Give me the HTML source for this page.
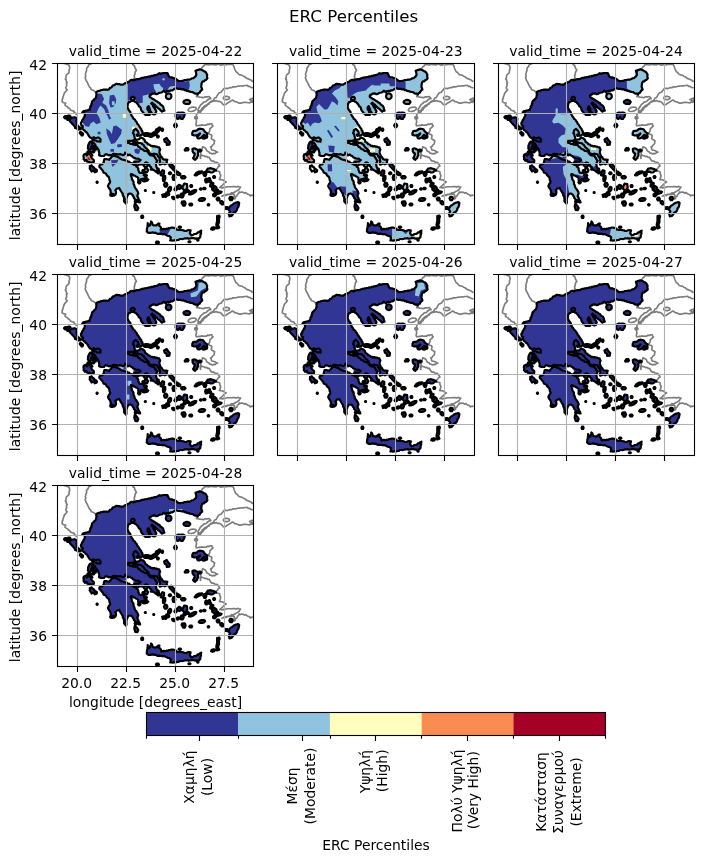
<!DOCTYPE html>
<html lang="el"><head><meta charset="utf-8"><title>ERC Percentiles</title>
<style>html,body{margin:0;padding:0;background:#fff}svg{display:block}text{font-family:"DejaVu Sans","Liberation Sans",sans-serif;fill:#000;font-size:13.89px}</style></head><body>
<svg width="703" height="862" viewBox="0 0 703 862">
<rect width="703" height="862" fill="#fff"/>
<defs>
<path id="land" d="M23.9 62.0L25.3 62.5L25.3 63.4L24.7 64.0L24.8 64.9L25.5 65.5L26.1 66.5L27.2 67.0L27.8 68.0L28.6 68.5L29.4 69.0L30.2 70.3L30.9 71.7L31.8 73.0L32.6 74.0L33.7 74.5L34.6 74.9L34.9 75.8L35.2 74.5L36.3 73.8L37.4 74.4L38.6 74.5L39.9 74.2L41.2 74.0L41.7 74.7L42.5 75.0L43.1 76.0L42.9 77.2L42.9 78.3L41.8 77.9L40.6 78.0L39.5 77.9L38.6 77.0L37.4 77.0L36.4 76.3L35.1 76.2L35.1 77.6L34.3 78.7L35.3 79.5L36.5 79.6L37.2 80.5L37.9 81.6L38.2 82.9L39.2 83.8L40.0 84.7L40.7 85.6L41.2 86.7L41.3 88.0L41.8 89.2L41.7 90.5L41.6 91.8L42.6 92.1L43.5 92.5L45.0 92.5L46.5 92.5L47.1 91.5L48.0 90.8L49.2 90.9L50.3 91.2L51.4 91.8L52.5 91.7L53.6 91.6L54.7 91.8L55.2 90.7L56.3 90.2L57.5 90.7L58.9 90.6L60.2 90.8L61.3 91.0L62.6 90.6L63.7 91.0L65.1 91.6L66.6 91.2L67.4 90.4L67.6 89.2L68.7 89.8L69.3 90.8L70.0 91.8L71.0 91.6L71.9 91.0L73.1 91.9L74.5 92.5L75.4 93.7L76.8 94.3L77.7 94.6L78.4 95.0L79.6 95.3L80.8 95.0L81.9 95.9L83.1 96.5L82.0 97.5L80.8 98.2L79.3 98.0L77.8 98.0L76.7 98.3L76.1 99.2L77.1 99.9L78.4 100.0L78.2 101.2L76.8 101.5L75.9 100.9L74.9 100.3L73.9 99.8L72.5 99.2L71.5 98.0L70.1 97.8L68.9 96.9L67.4 96.8L66.1 96.3L64.5 96.0L63.1 95.3L62.0 94.5L60.8 93.8L59.6 93.1L58.2 92.8L57.1 92.4L56.0 92.5L54.9 92.2L54.4 93.0L53.9 93.8L53.2 94.6L52.3 95.3L51.8 96.3L50.6 96.0L49.4 95.7L48.1 95.7L46.9 95.5L46.4 97.0L46.3 98.6L45.5 100.0L44.4 101.0L42.9 101.2L42.2 101.7L41.8 102.5L42.0 103.6L42.9 104.3L43.6 105.2L44.4 106.0L45.1 107.0L45.8 107.9L45.9 109.0L47.1 109.5L48.4 110.0L49.1 111.5L50.2 112.7L51.4 113.7L51.8 115.2L52.0 116.7L52.7 118.0L52.4 119.2L51.5 120.2L51.0 121.3L50.5 122.3L50.8 123.5L51.4 124.5L52.1 125.3L52.7 126.2L53.1 127.3L53.1 128.4L53.3 129.5L53.9 130.2L54.9 130.3L56.2 130.8L56.8 132.0L57.8 131.2L58.4 130.0L58.5 128.9L58.4 127.8L57.8 126.8L58.7 126.0L59.2 125.0L60.5 125.0L61.7 124.5L62.4 125.7L63.0 126.9L63.7 128.0L64.4 129.2L65.3 130.3L65.3 131.9L66.3 133.0L66.3 134.3L66.7 135.5L66.5 136.8L66.6 138.0L67.6 139.1L68.6 140.2L69.0 138.7L68.9 137.5L68.9 136.2L69.0 135.0L69.5 133.5L70.0 132.0L70.6 131.2L71.0 130.3L72.1 130.2L73.3 130.0L74.1 130.8L75.1 131.4L75.5 132.5L76.2 133.4L76.4 134.5L77.4 135.5L77.8 136.7L79.4 136.7L79.8 137.5L80.4 138.3L81.4 138.9L82.7 139.0L82.2 137.5L81.2 136.3L80.9 135.0L80.5 133.8L79.8 132.8L80.1 131.3L80.8 130.0L80.4 128.5L79.6 127.1L78.8 125.8L77.8 124.6L77.1 123.3L76.8 121.7L76.0 120.5L76.1 119.0L75.8 117.8L75.0 116.8L74.4 115.8L74.3 114.5L73.9 113.1L73.3 111.7L73.5 110.5L74.9 110.8L75.6 111.3L76.1 112.0L77.4 112.1L78.4 113.0L79.7 113.5L80.8 114.5L80.7 115.7L80.8 117.0L81.7 117.2L82.3 118.0L82.8 116.7L83.7 115.5L85.2 115.4L86.6 115.0L87.9 114.6L89.2 114.2L88.5 113.5L88.0 112.5L87.1 112.1L86.2 111.7L87.0 110.8L86.2 109.9L86.2 108.8L85.5 109.2L84.7 109.5L83.4 109.4L82.1 109.2L81.5 108.5L81.3 107.5L80.7 106.3L80.8 105.0L80.0 103.7L78.8 103.0L79.2 102.0L80.4 101.7L81.5 101.1L82.7 101.0L84.2 101.0L85.7 100.8L86.8 100.4L87.6 99.5L88.5 98.9L89.6 99.2L90.4 99.9L90.6 101.0L91.5 101.2L92.1 102.0L92.5 103.1L93.6 103.8L93.9 105.0L94.8 105.8L95.9 106.5L97.0 107.0L98.0 107.9L99.0 108.8L99.2 107.8L99.8 107.0L99.9 105.6L99.4 104.3L98.8 103.0L98.7 101.8L98.4 100.7L98.6 99.5L99.3 98.4L99.8 97.3L99.0 96.4L98.4 95.5L97.9 94.5L97.2 93.6L96.8 92.5L95.5 92.1L94.1 92.0L92.8 91.7L91.9 90.8L91.0 90.0L90.9 89.0L90.2 88.3L89.0 87.6L87.6 87.5L86.5 87.1L85.7 86.1L84.5 85.8L83.1 85.1L82.2 83.8L80.8 83.2L80.3 82.1L79.4 81.2L78.1 81.3L76.8 81.2L75.6 81.1L74.5 80.5L72.9 80.5L71.7 79.3L70.2 79.3L69.4 78.3L70.2 77.4L71.4 77.3L72.9 77.4L74.4 77.3L75.9 76.8L76.9 76.3L77.8 75.8L77.2 74.7L77.1 73.5L76.6 72.1L76.3 70.7L75.4 69.5L76.1 68.2L76.1 66.7L77.2 66.1L78.1 65.3L79.1 66.4L80.2 67.4L80.8 68.8L81.2 70.3L80.3 70.9L79.2 71.3L79.8 72.4L80.8 72.0L82.0 72.3L83.0 72.0L84.2 71.1L85.5 70.3L84.9 69.1L84.9 67.8L84.0 66.9L83.8 65.6L83.0 64.6L82.1 63.5L81.4 62.2L80.6 61.0L79.6 59.9L79.2 58.5L78.1 57.5L77.5 56.1L76.0 55.3L75.5 53.9L74.5 52.8L73.8 51.4L73.1 50.1L72.8 48.5L71.9 47.3L70.9 46.1L70.5 44.9L70.0 43.8L70.0 42.5L70.3 41.4L70.2 40.2L71.0 39.6L71.2 38.7L72.4 38.5L73.2 37.7L74.8 37.3L76.4 37.3L77.2 38.1L78.3 38.3L79.1 39.4L80.1 40.4L80.9 41.5L81.4 42.8L82.7 43.5L83.3 44.7L83.5 46.0L84.0 47.2L85.2 48.3L85.7 49.8L87.0 50.1L87.8 51.3L89.1 51.5L90.2 51.1L91.4 51.5L92.4 51.2L92.0 49.8L91.4 48.5L90.9 47.0L89.9 45.8L89.9 44.6L90.1 43.5L91.1 42.7L91.6 43.7L91.9 44.8L92.5 45.8L92.5 47.1L93.3 48.1L93.9 49.0L94.4 50.0L95.4 50.6L96.8 50.9L98.1 50.5L98.2 49.1L98.8 47.9L98.4 46.8L97.6 45.9L97.4 44.7L96.4 44.0L95.8 43.1L95.4 41.9L94.8 40.8L93.7 40.1L94.7 39.1L95.2 40.0L96.1 40.5L96.7 41.5L97.8 41.9L98.5 42.7L99.4 43.6L100.3 44.6L101.4 45.2L102.5 46.1L103.4 47.2L104.5 48.1L105.6 47.3L106.9 47.1L106.3 46.0L106.1 44.9L105.9 43.7L105.2 42.5L104.0 41.7L102.9 40.8L102.1 39.6L100.7 39.0L99.7 38.0L98.4 37.4L97.3 36.6L96.2 35.8L94.9 35.4L93.7 34.3L92.3 33.7L92.0 32.5L92.6 31.4L93.7 31.1L94.6 30.2L95.9 30.2L97.3 29.9L98.7 30.7L100.1 30.4L101.1 29.6L102.4 29.3L103.7 29.0L105.1 28.4L106.1 27.2L107.2 28.0L108.2 29.0L108.2 28.2L109.5 27.6L111.0 27.4L112.4 27.5L113.5 26.8L114.9 26.8L116.0 26.1L117.3 25.0L118.8 24.6L120.2 25.4L121.7 25.4L123.1 25.4L124.5 26.0L126.0 25.7L127.0 26.6L128.4 26.7L129.5 27.5L131.0 27.6L132.4 28.1L133.8 28.5L135.3 28.7L136.6 29.7L138.0 30.1L139.3 30.2L140.2 31.0L140.7 29.7L142.2 29.2L142.7 27.9L143.6 26.9L144.7 26.1L144.3 24.6L143.7 23.2L143.9 21.8L144.0 20.4L144.4 19.0L145.2 17.9L146.6 17.8L147.3 16.8L148.4 16.4L149.3 15.7L149.9 14.7L149.5 13.5L149.5 12.3L149.7 11.1L149.0 10.0L148.4 8.8L147.3 8.0L146.1 7.4L144.9 6.7L143.6 6.2L142.3 5.7L140.9 6.4L139.4 6.7L138.0 7.2L138.4 8.6L138.7 10.0L138.8 11.4L138.1 12.8L137.0 13.7L135.9 14.7L134.4 14.8L133.1 15.7L131.6 16.1L130.2 16.2L128.8 16.5L127.3 16.5L126.0 17.1L124.7 17.3L123.5 17.5L122.2 17.6L121.0 17.5L119.8 16.7L118.8 15.7L117.5 14.9L116.0 14.7L114.7 13.9L113.1 13.9L111.7 13.3L111.0 12.2L110.6 10.9L110.0 9.7L108.7 9.6L107.4 9.5L106.0 9.5L104.6 9.8L103.2 10.1L101.8 9.7L100.4 10.6L99.1 11.3L97.5 11.6L96.4 11.8L95.4 12.4L94.2 12.3L92.9 13.0L91.4 12.9L90.0 13.5L88.5 13.7L87.1 13.8L85.7 14.4L84.2 14.4L82.9 15.0L81.5 15.7L80.0 15.7L78.5 15.8L77.2 16.4L75.8 16.9L74.3 16.3L72.9 16.8L71.8 18.0L70.2 18.5L69.1 19.7L67.7 19.7L66.6 20.4L65.5 21.1L64.1 21.1L62.8 21.1L61.5 20.5L60.3 20.6L59.1 20.3L57.9 20.8L57.0 21.6L55.6 21.8L54.7 22.8L53.9 24.0L52.4 24.4L51.6 25.7L50.3 26.3L48.9 26.2L47.6 26.2L46.3 26.1L45.1 26.4L43.9 26.5L42.7 27.1L41.4 27.3L40.2 27.8L39.0 28.5L38.7 29.8L39.0 31.1L38.7 32.4L38.5 33.6L38.0 34.8L36.8 35.6L36.2 36.7L35.1 37.2L34.5 38.3L34.4 39.6L33.8 40.6L33.9 41.9L32.8 42.8L32.9 44.0L32.2 45.1L32.1 46.4L30.7 46.7L29.3 47.0L28.1 47.2L26.9 47.5L25.7 47.9L24.8 48.9L25.9 49.3L27.0 49.8L27.3 51.1L27.3 52.4L26.8 53.5L26.1 54.4L25.6 55.8L24.6 57.0L24.6 58.2L23.7 58.9L23.4 60.0L23.7 61.0ZM77.2 79.3L78.6 79.4L79.8 78.7L81.2 79.5L82.7 79.5L83.9 79.8L84.7 80.7L85.9 81.3L86.6 82.5L87.2 83.5L88.1 84.3L89.0 85.0L90.0 86.1L91.1 87.0L91.2 88.0L91.0 89.0L92.2 89.8L93.5 90.5L94.8 90.5L96.0 90.2L97.5 90.4L99.0 90.5L99.9 91.3L100.4 92.5L101.1 93.5L101.7 94.4L102.3 95.5L102.3 96.8L102.7 98.0L102.1 99.0L102.0 100.1L102.3 101.2L103.8 100.7L105.3 100.0L106.3 100.3L107.2 100.8L108.3 100.2L109.6 100.0L109.2 98.7L109.3 97.5L109.8 96.3L108.5 96.1L107.1 96.1L105.8 95.7L104.9 94.9L104.4 93.7L103.3 93.0L102.9 91.8L102.4 90.6L101.9 89.5L102.0 88.4L102.0 87.2L102.7 86.3L102.1 85.1L101.7 83.8L100.5 83.8L99.4 83.2L98.1 83.2L96.8 82.6L95.5 83.0L94.3 82.3L92.9 82.1L91.9 81.0L90.6 80.7L89.8 79.7L88.7 78.9L87.6 78.3L87.3 76.7L86.2 75.5L85.1 74.7L83.7 74.2L82.6 74.6L81.8 75.5L80.8 76.0L79.6 76.1L78.6 76.6L77.8 77.5L76.7 78.2L75.5 78.3L76.2 78.9ZM90.0 162.0L90.0 163.3L89.6 164.5L89.4 165.7L89.4 166.8L89.2 168.0L90.0 168.7L91.0 169.3L92.2 169.4L93.5 169.3L95.0 168.9L96.4 169.3L98.0 169.2L99.4 170.0L100.5 170.5L101.8 170.1L102.9 170.5L104.0 170.3L105.1 170.9L106.2 170.5L107.7 171.1L109.2 171.7L110.4 172.4L111.7 172.5L112.5 173.1L113.3 173.8L113.0 174.8L113.2 176.0L112.7 177.0L114.0 177.0L115.3 177.2L116.6 176.8L117.7 176.7L118.9 176.8L120.0 176.5L121.2 176.3L122.2 175.5L123.5 175.5L124.8 175.6L126.1 175.3L127.4 174.9L128.8 175.0L130.0 174.6L131.3 175.3L132.5 175.0L134.1 174.7L135.6 174.5L136.9 174.9L138.2 175.2L139.6 175.0L140.8 174.9L141.9 174.5L142.7 173.7L142.9 172.5L143.0 171.2L143.6 169.9L143.4 168.6L143.7 167.2L142.4 167.7L141.5 168.8L140.4 168.9L139.6 169.7L138.2 170.5L136.6 170.5L135.8 171.3L134.8 171.7L133.7 172.0L133.3 170.8L132.3 170.0L132.5 168.9L132.9 167.9L133.1 166.8L132.2 166.8L131.3 166.5L130.2 166.8L129.0 167.3L127.8 167.5L126.8 167.3L125.8 166.8L124.6 166.6L123.4 166.5L122.2 166.2L120.9 166.5L120.0 166.2L119.0 166.2L118.3 165.1L117.0 164.5L115.5 164.2L114.0 164.1L112.5 164.5L111.2 164.7L110.1 165.4L108.8 165.1L107.6 165.8L106.3 165.4L105.0 165.6L103.7 166.0L103.6 164.9L103.3 163.7L102.6 163.0L101.7 162.5L101.6 161.2L101.9 160.0L101.1 160.0L100.4 160.5L99.5 161.2L98.8 162.0L97.5 161.9L96.2 161.9L95.1 161.3L94.8 160.0L94.4 158.9L93.5 158.0L93.5 159.4L92.6 160.6L92.5 162.0L91.8 162.3L91.0 162.5L90.3 161.1L90.2 159.5L90.3 160.8ZM77.1 34.3L76.1 33.3L74.7 33.3L73.5 34.3L73.4 35.7L74.4 36.7L75.9 36.7L77.0 35.7ZM88.6 72.3L90.0 72.5L91.3 72.8L92.7 73.3L94.1 73.2L95.3 72.6L96.4 72.0L97.6 71.4L98.8 70.7L99.6 69.4L100.8 68.3L101.8 67.1L102.7 65.8L102.7 64.8L102.3 64.0L101.5 64.8L100.4 65.0L99.5 66.2L98.6 67.4L97.4 68.2L96.0 68.9L94.7 69.8L93.5 70.7L92.2 70.8L91.1 69.9L89.9 69.7L88.6 69.7L87.4 70.0L86.2 70.5L87.4 71.4ZM12.6 58.0L13.3 58.7L14.1 59.5L14.8 60.4L15.6 61.2L16.5 62.0L17.3 63.1L17.6 64.5L19.2 64.9L20.4 66.0L21.8 65.9L23.1 66.0L22.6 65.1L22.4 64.0L21.3 63.1L20.0 62.5L19.8 61.5L19.4 60.5L19.3 59.2L19.0 58.0L19.3 56.5L19.4 55.0L18.3 54.3L17.1 53.7L16.0 54.2L14.8 54.1L13.7 54.3L13.1 55.3L12.2 56.0L12.1 57.1ZM32.9 78.0L31.8 79.3L30.6 82.0L30.4 85.0L31.8 86.5L34.1 85.5L34.9 82.0L34.3 78.5ZM29.8 89.0L30.3 90.1L30.2 91.2L29.2 92.0L28.8 91.1L28.2 90.2L27.2 90.7L26.3 91.2L25.9 92.7L26.3 94.3L26.1 95.7L26.9 96.4L27.4 97.3L28.3 96.9L29.0 96.3L29.3 97.3L29.8 98.2L31.3 98.4L32.7 98.8L33.8 99.0L35.0 98.8L36.1 99.0L36.4 97.8L36.3 96.5L35.1 95.5L34.2 94.3L33.3 93.0L33.5 91.8L33.0 90.7L32.9 89.5L31.7 88.6L30.8 87.5L30.1 88.1ZM32.2 88.7L32.3 90.5L33.7 92.5L34.9 92.0L33.7 90.5L34.1 88.7L32.7 87.5ZM32.2 105.0L32.9 105.9L33.5 107.0L34.1 108.0L35.2 107.4L36.3 107.0L36.8 107.9L37.2 108.8L38.2 108.4L39.2 108.2L39.4 106.8L38.6 105.9L37.5 105.4L36.7 104.5L35.9 103.5L34.7 102.9L34.1 101.8L33.3 102.3L32.3 102.5L32.4 103.8ZM76.8 143.2L77.8 146.3L79.8 146.7L80.8 144.5L79.2 141.8L77.2 140.5ZM113.9 32.8L113.6 31.3L112.5 30.2L111.1 29.8L109.7 30.2L108.7 31.3L108.3 32.8L108.7 34.2L109.7 35.3L111.1 35.7L112.5 35.3L113.6 34.2ZM132.8 38.5L132.1 37.3L131.3 36.9L130.4 36.6L129.4 36.4L128.3 36.6L127.5 37.0L126.6 37.3L125.9 38.5L126.6 39.7L127.5 40.0L128.3 40.4L129.4 40.3L130.4 40.4L131.4 40.3L132.1 39.7ZM118.6 54.0L119.4 55.0L120.5 55.5L121.5 54.6L122.3 53.5L122.4 54.3L122.9 55.0L123.9 55.5L125.1 55.5L125.7 54.3L126.6 53.3L127.0 51.8L127.2 50.2L126.2 49.4L124.9 49.0L123.8 49.0L122.9 49.5L121.9 49.2L120.9 49.0L119.6 49.8L118.0 50.2L118.3 51.5L118.1 52.8ZM134.7 71.3L135.7 71.4L136.6 72.0L138.1 72.0L139.6 71.7L140.6 71.2L141.5 70.6L142.5 70.0L141.5 71.3L140.7 72.3L139.6 73.0L139.9 74.1L140.5 75.0L142.1 74.8L143.5 74.2L144.5 73.3L145.4 72.3L146.4 71.3L147.2 71.7L147.8 72.5L147.3 73.6L146.3 74.2L145.4 75.0L146.4 75.1L147.4 75.0L148.3 74.3L149.4 74.2L149.7 72.9L149.4 71.4L149.8 70.0L148.5 69.1L147.3 68.1L146.4 66.8L145.6 65.8L144.5 65.5L143.3 65.3L142.2 65.2L141.1 65.5L140.3 66.1L139.6 66.8L138.3 67.3L137.0 67.4L135.6 67.5L135.2 68.5L134.7 69.5L134.9 70.4ZM135.1 88.0L135.9 89.2L137.2 90.0L137.2 91.3L136.6 92.5L136.4 93.6L135.6 94.5L136.4 95.6L137.6 96.3L138.4 95.2L139.6 94.5L139.7 93.4L140.3 92.5L140.6 91.3L140.5 90.0L140.7 88.7L140.6 87.4L140.0 86.3L138.7 85.8L137.6 85.0L136.2 84.9L134.9 85.5L135.1 86.7ZM149.4 108.2L150.4 108.4L151.3 108.0L152.7 108.8L154.3 109.0L155.4 108.7L156.2 108.0L157.3 107.2L158.6 107.0L157.4 106.2L156.2 105.5L154.7 105.2L153.3 104.7L151.8 104.9L150.3 105.0L149.8 106.2L148.8 107.0ZM138.6 112.0L140.5 110.8L143.5 109.5L144.7 107.8L141.5 108.0L138.6 109.5L137.2 111.7ZM107.2 78.3L108.8 79.0L109.4 81.5L111.9 81.2L112.3 78.5L110.6 76.8L109.2 74.5L106.6 76.0ZM172.5 148.0L171.7 149.3L171.3 150.8L171.8 151.8L171.9 153.0L172.8 152.6L173.9 152.5L174.9 151.3L175.8 150.0L176.6 148.9L177.9 148.5L178.8 147.5L179.5 146.3L179.6 144.9L180.6 143.8L181.1 142.5L181.4 141.0L181.7 139.5L180.7 138.5L179.5 138.9L178.1 139.2L176.9 139.7L175.8 140.5L174.7 141.4L173.5 142.0L172.5 143.0L171.8 144.0L171.1 145.0L170.9 146.3L171.9 146.9ZM159.6 157.5L158.8 161.3L159.6 165.0L161.7 164.2L160.5 161.3L161.5 158.8L161.5 153.7L159.6 152.5ZM155.8 132.5L157.2 133.0L159.2 130.7L163.1 129.5L164.1 128.3L161.1 127.5L157.2 129.5L155.6 131.0ZM112.1 102.5L114.1 104.5L116.4 107.0L118.0 107.0L117.0 103.7L113.7 100.2L111.7 100.8ZM118.0 109.5L120.0 111.3L122.3 111.7L122.9 110.5L119.6 108.0L117.6 108.2ZM124.9 125.0L126.2 126.2L128.2 126.8L129.8 124.2L129.4 120.5L126.8 120.0L125.3 123.0ZM120.0 125.0L121.9 125.5L123.3 124.5L123.3 122.0L121.5 121.3L120.0 123.0ZM105.3 133.5L106.6 133.0L108.2 133.5L109.2 132.5L108.2 131.8L106.6 130.7L104.7 131.2ZM25.5 71.2L25.5 70.3L24.6 69.2L23.3 68.6L22.4 68.8L22.4 69.7L23.3 70.8L24.6 71.4ZM9.9 53.7L9.1 52.6L7.4 52.6L6.5 53.7L7.4 54.9L9.1 54.9ZM11.7 55.5L11.1 54.5L10.0 54.5L9.5 55.5L10.0 56.5L11.1 56.5ZM12.9 53.0L12.2 52.0L10.9 52.0L10.2 53.0L10.9 54.0L12.2 54.0ZM85.7 153.3L85.2 152.0L84.2 152.0L83.7 153.3L84.2 154.5L85.2 154.5ZM101.4 179.0L100.7 178.0L99.2 178.0L98.5 179.0L99.2 180.0L100.7 180.0ZM119.5 62.0L118.7 60.4L117.3 60.4L116.5 62.0L117.3 63.6L118.7 63.6ZM131.1 85.8L130.2 84.5L128.5 84.5L127.7 85.8L128.5 87.0L130.2 87.0ZM143.8 87.0L143.0 86.2L141.6 86.2L140.8 87.0L141.6 87.8L143.0 87.8ZM148.9 110.5L148.1 108.7L146.7 108.7L145.9 110.5L146.7 112.3L148.1 112.3ZM150.0 117.0L149.4 115.2L148.2 115.2L147.6 117.0L148.2 118.8L149.4 118.8ZM155.5 122.0L155.9 119.8L154.7 119.1L153.0 120.5L152.6 122.7L153.8 123.4ZM158.9 123.8L157.4 122.6L155.6 122.9L154.5 124.4L154.7 126.2L156.2 127.4L158.0 127.1L159.2 125.6ZM162.0 135.5L161.3 134.2L159.8 134.2L159.1 135.5L159.8 136.8L161.3 136.8ZM166.1 140.7L166.1 139.0L164.4 137.5L162.8 137.8L162.8 139.5L164.5 141.0ZM175.2 135.0L174.3 133.4L172.6 133.4L171.8 135.0L172.6 136.6L174.3 136.6ZM170.4 144.5L169.7 143.5L168.2 143.5L167.5 144.5L168.2 145.5L169.7 145.5ZM157.7 164.2L156.3 163.7L154.2 164.4L153.6 165.8L155.0 166.3L157.0 165.6ZM147.6 135.4L146.5 134.6L144.2 134.5L142.1 135.3L141.3 136.6L142.4 137.4L144.7 137.5L146.9 136.7ZM138.8 126.7L137.3 126.5L134.6 127.6L132.2 129.4L131.6 130.8L133.2 131.0L135.9 129.9L138.3 128.1ZM126.2 132.0L125.3 130.2L123.6 130.2L122.8 132.0L123.6 133.8L125.3 133.8ZM128.1 140.0L127.3 137.9L125.6 137.9L124.7 140.0L125.6 142.1L127.3 142.1ZM134.7 141.0L134.0 140.0L132.6 140.0L131.8 141.0L132.6 142.0L134.0 142.0ZM122.0 132.4L120.8 131.9L119.2 132.5L118.7 133.6L119.9 134.1L121.5 133.5ZM117.5 135.4L117.2 134.2L115.7 133.3L114.6 133.6L114.9 134.8L116.3 135.7ZM113.5 126.2L113.6 123.8L112.2 123.3L110.7 125.3L110.6 127.7L112.0 128.2ZM109.9 121.3L109.1 119.4L107.3 119.4L106.5 121.3L107.3 123.1L109.1 123.1ZM107.8 115.2L107.7 112.5L106.5 112.3L105.4 114.8L105.6 117.5L106.8 117.7ZM106.5 110.1L106.6 107.3L105.0 106.7L103.3 108.9L103.2 111.7L104.8 112.3ZM117.9 114.0L117.2 111.6L115.7 111.6L115.0 114.0L115.7 116.4L117.2 116.4ZM128.0 113.7L126.9 112.5L124.7 112.5L123.6 113.7L124.7 115.0L126.9 115.0ZM110.8 130.0L110.2 128.8L109.0 128.8L108.4 130.0L109.0 131.2L110.2 131.2ZM90.4 101.8L89.3 100.2L87.1 100.2L86.0 101.8L87.1 103.3L89.3 103.3ZM90.6 106.8L89.6 104.9L87.6 104.9L86.6 106.8L87.6 108.6L89.6 108.6ZM90.8 116.0L89.2 115.5L86.4 116.3L85.2 117.5L86.8 118.0L89.7 117.2ZM83.0 118.8L82.3 117.7L81.1 117.7L80.5 118.8L81.1 119.8L82.3 119.8ZM89.4 112.0L88.8 111.1L87.6 111.1L87.0 112.0L87.6 112.9L88.8 112.9ZM89.4 70.4L88.2 69.5L86.6 70.1L86.2 71.6L87.5 72.5L89.1 71.9ZM95.0 72.9L94.3 71.1L91.9 70.0L90.1 70.6L90.8 72.4L93.2 73.5ZM98.7 68.4L97.1 68.4L95.2 70.0L95.0 71.6L96.6 71.6L98.4 70.0ZM101.2 66.8L100.5 65.5L99.0 65.5L98.3 66.8L99.0 68.0L100.5 68.0ZM102.7 65.2L102.2 64.0L101.2 64.0L100.8 65.2L101.2 66.5L102.2 66.5ZM105.6 66.2L105.2 65.2L104.5 65.2L104.1 66.2L104.5 67.3L105.2 67.3ZM101.3 73.0L100.8 72.0L99.9 72.0L99.4 73.0L99.9 74.0L100.8 74.0ZM134.7 122.5L134.2 121.5L133.2 121.5L132.7 122.5L133.2 123.5L134.2 123.5ZM130.7 126.8L130.2 126.0L129.3 126.0L128.8 126.8L129.3 127.5L130.2 127.5ZM101.5 107.5L101.1 105.1L100.4 105.1L100.0 107.5L100.4 109.9L101.1 109.9ZM157.6 113.5L157.1 112.7L156.1 112.7L155.6 113.5L156.1 114.3L157.1 114.3ZM153.5 117.5L152.9 116.5L151.7 116.5L151.1 117.5L151.7 118.5L152.9 118.5ZM209.1 146.5L208.6 145.7L207.7 145.7L207.2 146.5L207.7 147.3L208.6 147.3ZM79.2 138.0L78.7 137.0L77.7 137.0L77.2 138.0L77.7 139.0L78.7 139.0ZM37.0 83.8L36.1 82.5L34.4 82.5L33.6 83.8L34.4 85.0L36.1 85.0ZM39.3 83.9L37.9 83.2L36.4 84.1L36.4 85.6L37.7 86.3L39.2 85.4ZM36.8 88.0L36.4 87.2L35.7 87.2L35.3 88.0L35.7 88.8L36.4 88.8ZM25.2 71.3L24.9 70.5L24.1 70.5L23.8 71.3L24.1 72.0L24.9 72.0ZM162.2 153.3L161.9 152.2L161.1 152.2L160.8 153.3L161.1 154.3L161.9 154.3ZM148.0 125.0L147.4 124.4L146.2 124.4L145.6 125.0L146.2 125.6L147.4 125.6ZM151.7 141.2L151.3 140.6L150.6 140.6L150.2 141.2L150.6 141.9L151.3 141.9ZM144.1 125.5L143.7 124.9L142.9 124.9L142.4 125.5L142.9 126.1L143.7 126.1ZM113.7 109.8L113.1 108.9L111.9 108.9L111.3 109.8L111.9 110.6L113.1 110.6ZM119.4 125.0L119.0 123.4L118.2 123.4L117.7 125.0L118.2 126.6L119.0 126.6ZM127.8 129.0L127.3 128.1L126.3 128.1L125.8 129.0L126.3 129.9L127.3 129.9ZM128.9 128.3L128.6 127.6L127.8 127.6L127.5 128.3L127.8 128.9L128.6 128.9ZM125.3 139.2L125.0 138.2L124.4 138.2L124.1 139.2L124.4 140.3L125.0 140.3ZM123.5 163.7L122.9 163.2L121.7 163.2L121.1 163.7L121.7 164.3L122.9 164.3ZM132.9 178.3L132.4 177.8L131.4 177.8L130.9 178.3L131.4 178.7L132.4 178.7ZM141.1 176.5L140.7 175.9L140.0 175.9L139.6 176.5L140.0 177.1L140.7 177.1ZM40.2 118.8L39.9 118.2L39.3 118.2L39.0 118.8L39.3 119.3L39.9 119.3ZM53.9 131.2L53.6 130.4L53.0 130.4L52.7 131.2L53.0 132.1L53.6 132.1ZM55.4 131.8L55.1 131.0L54.3 131.0L54.0 131.8L54.3 132.5L55.1 132.5ZM86.2 116.5L85.8 115.9L84.8 115.9L84.3 116.5L84.8 117.1L85.8 117.1ZM86.5 107.5L86.1 106.7L85.2 106.7L84.8 107.5L85.2 108.3L86.1 108.3ZM94.2 105.7L93.9 105.3L93.5 105.3L93.2 105.7L93.5 106.2L93.9 106.2ZM156.2 125.0L155.9 124.1L155.3 124.1L155.0 125.0L155.3 125.9L155.9 125.9ZM160.6 126.8L160.2 126.0L159.3 126.0L158.9 126.8L159.3 127.5L160.2 127.5ZM152.6 115.5L152.3 114.7L151.5 114.7L151.2 115.5L151.5 116.3L152.3 116.3ZM147.1 110.5L146.8 109.9L146.1 109.9L145.7 110.5L146.1 111.1L146.8 111.1ZM128.4 86.5L128.1 85.9L127.5 85.9L127.2 86.5L127.5 87.1L128.1 87.1ZM111.8 130.7L111.4 129.9L110.5 129.9L110.1 130.7L110.5 131.6L111.4 131.6ZM118.3 126.0L118.0 125.4L117.2 125.4L116.9 126.0L117.2 126.6L118.0 126.6ZM131.7 127.7L131.2 127.0L130.3 127.0L129.8 127.7L130.3 128.5L131.2 128.5ZM96.7 129.0L96.5 128.5L96.0 128.5L95.8 129.0L96.0 129.5L96.5 129.5ZM88.3 127.0L88.1 126.5L87.6 126.5L87.3 127.0L87.6 127.5L88.1 127.5ZM97.6 41.8L97.2 41.1L96.5 41.1L96.1 41.8L96.5 42.4L97.2 42.4ZM98.7 70.3L98.4 69.0L97.6 69.0L97.3 70.3L97.6 71.5L98.4 71.5Z"/>
<path id="fland" d="M23.9 62.0L25.3 62.5L25.3 63.4L24.7 64.0L24.8 64.9L25.5 65.5L26.1 66.5L27.2 67.0L27.8 68.0L28.6 68.5L29.4 69.0L30.2 70.3L30.9 71.7L31.8 73.0L32.6 74.0L33.7 74.5L34.6 74.9L34.9 75.8L35.2 74.5L36.3 73.8L37.4 74.4L38.6 74.5L39.9 74.2L41.2 74.0L41.7 74.7L42.5 75.0L43.1 76.0L42.9 77.2L42.9 78.3L41.8 77.9L40.6 78.0L39.5 77.9L38.6 77.0L37.4 77.0L36.4 76.3L35.1 76.2L35.1 77.6L34.3 78.7L35.3 79.5L36.5 79.6L37.2 80.5L37.9 81.6L38.2 82.9L39.2 83.8L40.0 84.7L40.7 85.6L41.2 86.7L41.3 88.0L41.8 89.2L41.7 90.5L41.6 91.8L42.6 92.1L43.5 92.5L45.0 92.5L46.5 92.5L47.1 91.5L48.0 90.8L49.2 90.9L50.3 91.2L51.4 91.8L52.5 91.7L53.6 91.6L54.7 91.8L55.2 90.7L56.3 90.2L57.5 90.7L58.9 90.6L60.2 90.8L61.3 91.0L62.6 90.6L63.7 91.0L65.1 91.6L66.6 91.2L67.4 90.4L67.6 89.2L68.7 89.8L69.3 90.8L70.0 91.8L71.0 91.6L71.9 91.0L73.1 91.9L74.5 92.5L75.4 93.7L76.8 94.3L77.7 94.6L78.4 95.0L79.6 95.3L80.8 95.0L81.9 95.9L83.1 96.5L82.0 97.5L80.8 98.2L79.3 98.0L77.8 98.0L76.7 98.3L76.1 99.2L77.1 99.9L78.4 100.0L78.2 101.2L76.8 101.5L75.9 100.9L74.9 100.3L73.9 99.8L72.5 99.2L71.5 98.0L70.1 97.8L68.9 96.9L67.4 96.8L66.1 96.3L64.5 96.0L63.1 95.3L62.0 94.5L60.8 93.8L59.6 93.1L58.2 92.8L57.1 92.4L56.0 92.5L54.9 92.2L54.4 93.0L53.9 93.8L53.2 94.6L52.3 95.3L51.8 96.3L50.6 96.0L49.4 95.7L48.1 95.7L46.9 95.5L46.4 97.0L46.3 98.6L45.5 100.0L44.4 101.0L42.9 101.2L42.2 101.7L41.8 102.5L42.0 103.6L42.9 104.3L43.6 105.2L44.4 106.0L45.1 107.0L45.8 107.9L45.9 109.0L47.1 109.5L48.4 110.0L49.1 111.5L50.2 112.7L51.4 113.7L51.8 115.2L52.0 116.7L52.7 118.0L52.4 119.2L51.5 120.2L51.0 121.3L50.5 122.3L50.8 123.5L51.4 124.5L52.1 125.3L52.7 126.2L53.1 127.3L53.1 128.4L53.3 129.5L53.9 130.2L54.9 130.3L56.2 130.8L56.8 132.0L57.8 131.2L58.4 130.0L58.5 128.9L58.4 127.8L57.8 126.8L58.7 126.0L59.2 125.0L60.5 125.0L61.7 124.5L62.4 125.7L63.0 126.9L63.7 128.0L64.4 129.2L65.3 130.3L65.3 131.9L66.3 133.0L66.3 134.3L66.7 135.5L66.5 136.8L66.6 138.0L67.6 139.1L68.6 140.2L69.0 138.7L68.9 137.5L68.9 136.2L69.0 135.0L69.5 133.5L70.0 132.0L70.6 131.2L71.0 130.3L72.1 130.2L73.3 130.0L74.1 130.8L75.1 131.4L75.5 132.5L76.2 133.4L76.4 134.5L77.4 135.5L77.8 136.7L79.4 136.7L79.8 137.5L80.4 138.3L81.4 138.9L82.7 139.0L82.2 137.5L81.2 136.3L80.9 135.0L80.5 133.8L79.8 132.8L80.1 131.3L80.8 130.0L80.4 128.5L79.6 127.1L78.8 125.8L77.8 124.6L77.1 123.3L76.8 121.7L76.0 120.5L76.1 119.0L75.8 117.8L75.0 116.8L74.4 115.8L74.3 114.5L73.9 113.1L73.3 111.7L73.5 110.5L74.9 110.8L75.6 111.3L76.1 112.0L77.4 112.1L78.4 113.0L79.7 113.5L80.8 114.5L80.7 115.7L80.8 117.0L81.7 117.2L82.3 118.0L82.8 116.7L83.7 115.5L85.2 115.4L86.6 115.0L87.9 114.6L89.2 114.2L88.5 113.5L88.0 112.5L87.1 112.1L86.2 111.7L87.0 110.8L86.2 109.9L86.2 108.8L85.5 109.2L84.7 109.5L83.4 109.4L82.1 109.2L81.5 108.5L81.3 107.5L80.7 106.3L80.8 105.0L80.0 103.7L78.8 103.0L79.2 102.0L80.4 101.7L81.5 101.1L82.7 101.0L84.2 101.0L85.7 100.8L86.8 100.4L87.6 99.5L88.5 98.9L89.6 99.2L90.4 99.9L90.6 101.0L91.5 101.2L92.1 102.0L92.5 103.1L93.6 103.8L93.9 105.0L94.8 105.8L95.9 106.5L97.0 107.0L98.0 107.9L99.0 108.8L99.2 107.8L99.8 107.0L99.9 105.6L99.4 104.3L98.8 103.0L98.7 101.8L98.4 100.7L98.6 99.5L99.3 98.4L99.8 97.3L99.0 96.4L98.4 95.5L97.9 94.5L97.2 93.6L96.8 92.5L95.5 92.1L94.1 92.0L92.8 91.7L91.9 90.8L91.0 90.0L90.9 89.0L90.2 88.3L89.0 87.6L87.6 87.5L86.5 87.1L85.7 86.1L84.5 85.8L83.1 85.1L82.2 83.8L80.8 83.2L80.3 82.1L79.4 81.2L78.1 81.3L76.8 81.2L75.6 81.1L74.5 80.5L72.9 80.5L71.7 79.3L70.2 79.3L69.4 78.3L70.2 77.4L71.4 77.3L72.9 77.4L74.4 77.3L75.9 76.8L76.9 76.3L77.8 75.8L77.2 74.7L77.1 73.5L76.6 72.1L76.3 70.7L75.4 69.5L76.1 68.2L76.1 66.7L77.2 66.1L78.1 65.3L79.1 66.4L80.2 67.4L80.8 68.8L81.2 70.3L80.3 70.9L79.2 71.3L79.8 72.4L80.8 72.0L82.0 72.3L83.0 72.0L84.2 71.1L85.5 70.3L84.9 69.1L84.9 67.8L84.0 66.9L83.8 65.6L83.0 64.6L82.1 63.5L81.4 62.2L80.6 61.0L79.6 59.9L79.2 58.5L78.1 57.5L77.5 56.1L76.0 55.3L75.5 53.9L74.5 52.8L73.8 51.4L73.1 50.1L72.8 48.5L71.9 47.3L70.9 46.1L70.5 44.9L70.0 43.8L70.0 42.5L70.3 41.4L70.2 40.2L71.0 39.6L71.2 38.7L72.4 38.5L73.2 37.7L74.8 37.3L76.4 37.3L77.2 38.1L78.3 38.3L79.1 39.4L80.1 40.4L80.9 41.5L81.4 42.8L82.7 43.5L83.3 44.7L83.5 46.0L84.0 47.2L85.2 48.3L85.7 49.8L87.0 50.1L87.8 51.3L89.1 51.5L90.2 51.1L91.4 51.5L92.4 51.2L92.0 49.8L91.4 48.5L90.9 47.0L89.9 45.8L89.9 44.6L90.1 43.5L91.1 42.7L91.6 43.7L91.9 44.8L92.5 45.8L92.5 47.1L93.3 48.1L93.9 49.0L94.4 50.0L95.4 50.6L96.8 50.9L98.1 50.5L98.2 49.1L98.8 47.9L98.4 46.8L97.6 45.9L97.4 44.7L96.4 44.0L95.8 43.1L95.4 41.9L94.8 40.8L93.7 40.1L94.7 39.1L95.2 40.0L96.1 40.5L96.7 41.5L97.8 41.9L98.5 42.7L99.4 43.6L100.3 44.6L101.4 45.2L102.5 46.1L103.4 47.2L104.5 48.1L105.6 47.3L106.9 47.1L106.3 46.0L106.1 44.9L105.9 43.7L105.2 42.5L104.0 41.7L102.9 40.8L102.1 39.6L100.7 39.0L99.7 38.0L98.4 37.4L97.3 36.6L96.2 35.8L94.9 35.4L93.7 34.3L92.3 33.7L92.0 32.5L92.6 31.4L93.7 31.1L94.6 30.2L95.9 30.2L97.3 29.9L98.7 30.7L100.1 30.4L101.1 29.6L102.4 29.3L103.7 29.0L105.1 28.4L106.1 27.2L107.2 28.0L108.2 29.0L108.2 28.2L109.5 27.6L111.0 27.4L112.4 27.5L113.5 26.8L114.9 26.8L116.0 26.1L117.3 25.0L118.8 24.6L120.2 25.4L121.7 25.4L123.1 25.4L124.5 26.0L126.0 25.7L127.0 26.6L128.4 26.7L129.5 27.5L131.0 27.6L132.4 28.1L133.8 28.5L135.3 28.7L136.6 29.7L138.0 30.1L139.3 30.2L140.2 31.0L140.7 29.7L142.2 29.2L142.7 27.9L143.6 26.9L144.7 26.1L144.3 24.6L143.7 23.2L143.9 21.8L144.0 20.4L144.4 19.0L145.2 17.9L146.6 17.8L147.3 16.8L148.4 16.4L149.3 15.7L149.9 14.7L149.5 13.5L149.5 12.3L149.7 11.1L149.0 10.0L148.4 8.8L147.3 8.0L146.1 7.4L144.9 6.7L143.6 6.2L142.3 5.7L140.9 6.4L139.4 6.7L138.0 7.2L138.4 8.6L138.7 10.0L138.8 11.4L138.1 12.8L137.0 13.7L135.9 14.7L134.4 14.8L133.1 15.7L131.6 16.1L130.2 16.2L128.8 16.5L127.3 16.5L126.0 17.1L124.7 17.3L123.5 17.5L122.2 17.6L121.0 17.5L119.8 16.7L118.8 15.7L117.5 14.9L116.0 14.7L114.7 13.9L113.1 13.9L111.7 13.3L111.0 12.2L110.6 10.9L110.0 9.7L108.7 9.6L107.4 9.5L106.0 9.5L104.6 9.8L103.2 10.1L101.8 9.7L100.4 10.6L99.1 11.3L97.5 11.6L96.4 11.8L95.4 12.4L94.2 12.3L92.9 13.0L91.4 12.9L90.0 13.5L88.5 13.7L87.1 13.8L85.7 14.4L84.2 14.4L82.9 15.0L81.5 15.7L80.0 15.7L78.5 15.8L77.2 16.4L75.8 16.9L74.3 16.3L72.9 16.8L71.8 18.0L70.2 18.5L69.1 19.7L67.7 19.7L66.6 20.4L65.5 21.1L64.1 21.1L62.8 21.1L61.5 20.5L60.3 20.6L59.1 20.3L57.9 20.8L57.0 21.6L55.6 21.8L54.7 22.8L53.9 24.0L52.4 24.4L51.6 25.7L50.3 26.3L48.9 26.2L47.6 26.2L46.3 26.1L45.1 26.4L43.9 26.5L42.7 27.1L41.4 27.3L40.2 27.8L39.0 28.5L38.7 29.8L39.0 31.1L38.7 32.4L38.5 33.6L38.0 34.8L36.8 35.6L36.2 36.7L35.1 37.2L34.5 38.3L34.4 39.6L33.8 40.6L33.9 41.9L32.8 42.8L32.9 44.0L32.2 45.1L32.1 46.4L30.7 46.7L29.3 47.0L28.1 47.2L26.9 47.5L25.7 47.9L24.8 48.9L25.9 49.3L27.0 49.8L27.3 51.1L27.3 52.4L26.8 53.5L26.1 54.4L25.6 55.8L24.6 57.0L24.6 58.2L23.7 58.9L23.4 60.0L23.7 61.0ZM77.2 79.3L78.6 79.4L79.8 78.7L81.2 79.5L82.7 79.5L83.9 79.8L84.7 80.7L85.9 81.3L86.6 82.5L87.2 83.5L88.1 84.3L89.0 85.0L90.0 86.1L91.1 87.0L91.2 88.0L91.0 89.0L92.2 89.8L93.5 90.5L94.8 90.5L96.0 90.2L97.5 90.4L99.0 90.5L99.9 91.3L100.4 92.5L101.1 93.5L101.7 94.4L102.3 95.5L102.3 96.8L102.7 98.0L102.1 99.0L102.0 100.1L102.3 101.2L103.8 100.7L105.3 100.0L106.3 100.3L107.2 100.8L108.3 100.2L109.6 100.0L109.2 98.7L109.3 97.5L109.8 96.3L108.5 96.1L107.1 96.1L105.8 95.7L104.9 94.9L104.4 93.7L103.3 93.0L102.9 91.8L102.4 90.6L101.9 89.5L102.0 88.4L102.0 87.2L102.7 86.3L102.1 85.1L101.7 83.8L100.5 83.8L99.4 83.2L98.1 83.2L96.8 82.6L95.5 83.0L94.3 82.3L92.9 82.1L91.9 81.0L90.6 80.7L89.8 79.7L88.7 78.9L87.6 78.3L87.3 76.7L86.2 75.5L85.1 74.7L83.7 74.2L82.6 74.6L81.8 75.5L80.8 76.0L79.6 76.1L78.6 76.6L77.8 77.5L76.7 78.2L75.5 78.3L76.2 78.9ZM90.0 162.0L90.0 163.3L89.6 164.5L89.4 165.7L89.4 166.8L89.2 168.0L90.0 168.7L91.0 169.3L92.2 169.4L93.5 169.3L95.0 168.9L96.4 169.3L98.0 169.2L99.4 170.0L100.5 170.5L101.8 170.1L102.9 170.5L104.0 170.3L105.1 170.9L106.2 170.5L107.7 171.1L109.2 171.7L110.4 172.4L111.7 172.5L112.5 173.1L113.3 173.8L113.0 174.8L113.2 176.0L112.7 177.0L114.0 177.0L115.3 177.2L116.6 176.8L117.7 176.7L118.9 176.8L120.0 176.5L121.2 176.3L122.2 175.5L123.5 175.5L124.8 175.6L126.1 175.3L127.4 174.9L128.8 175.0L130.0 174.6L131.3 175.3L132.5 175.0L134.1 174.7L135.6 174.5L136.9 174.9L138.2 175.2L139.6 175.0L140.8 174.9L141.9 174.5L142.7 173.7L142.9 172.5L143.0 171.2L143.6 169.9L143.4 168.6L143.7 167.2L142.4 167.7L141.5 168.8L140.4 168.9L139.6 169.7L138.2 170.5L136.6 170.5L135.8 171.3L134.8 171.7L133.7 172.0L133.3 170.8L132.3 170.0L132.5 168.9L132.9 167.9L133.1 166.8L132.2 166.8L131.3 166.5L130.2 166.8L129.0 167.3L127.8 167.5L126.8 167.3L125.8 166.8L124.6 166.6L123.4 166.5L122.2 166.2L120.9 166.5L120.0 166.2L119.0 166.2L118.3 165.1L117.0 164.5L115.5 164.2L114.0 164.1L112.5 164.5L111.2 164.7L110.1 165.4L108.8 165.1L107.6 165.8L106.3 165.4L105.0 165.6L103.7 166.0L103.6 164.9L103.3 163.7L102.6 163.0L101.7 162.5L101.6 161.2L101.9 160.0L101.1 160.0L100.4 160.5L99.5 161.2L98.8 162.0L97.5 161.9L96.2 161.9L95.1 161.3L94.8 160.0L94.4 158.9L93.5 158.0L93.5 159.4L92.6 160.6L92.5 162.0L91.8 162.3L91.0 162.5L90.3 161.1L90.2 159.5L90.3 160.8ZM77.1 34.3L76.1 33.3L74.7 33.3L73.5 34.3L73.4 35.7L74.4 36.7L75.9 36.7L77.0 35.7ZM88.6 72.3L90.0 72.5L91.3 72.8L92.7 73.3L94.1 73.2L95.3 72.6L96.4 72.0L97.6 71.4L98.8 70.7L99.6 69.4L100.8 68.3L101.8 67.1L102.7 65.8L102.7 64.8L102.3 64.0L101.5 64.8L100.4 65.0L99.5 66.2L98.6 67.4L97.4 68.2L96.0 68.9L94.7 69.8L93.5 70.7L92.2 70.8L91.1 69.9L89.9 69.7L88.6 69.7L87.4 70.0L86.2 70.5L87.4 71.4ZM12.6 58.0L13.3 58.7L14.1 59.5L14.8 60.4L15.6 61.2L16.5 62.0L17.3 63.1L17.6 64.5L19.2 64.9L20.4 66.0L21.8 65.9L23.1 66.0L22.6 65.1L22.4 64.0L21.3 63.1L20.0 62.5L19.8 61.5L19.4 60.5L19.3 59.2L19.0 58.0L19.3 56.5L19.4 55.0L18.3 54.3L17.1 53.7L16.0 54.2L14.8 54.1L13.7 54.3L13.1 55.3L12.2 56.0L12.1 57.1ZM32.9 78.0L31.8 79.3L30.6 82.0L30.4 85.0L31.8 86.5L34.1 85.5L34.9 82.0L34.3 78.5ZM29.8 89.0L30.3 90.1L30.2 91.2L29.2 92.0L28.8 91.1L28.2 90.2L27.2 90.7L26.3 91.2L25.9 92.7L26.3 94.3L26.1 95.7L26.9 96.4L27.4 97.3L28.3 96.9L29.0 96.3L29.3 97.3L29.8 98.2L31.3 98.4L32.7 98.8L33.8 99.0L35.0 98.8L36.1 99.0L36.4 97.8L36.3 96.5L35.1 95.5L34.2 94.3L33.3 93.0L33.5 91.8L33.0 90.7L32.9 89.5L31.7 88.6L30.8 87.5L30.1 88.1ZM32.2 88.7L32.3 90.5L33.7 92.5L34.9 92.0L33.7 90.5L34.1 88.7L32.7 87.5ZM32.2 105.0L32.9 105.9L33.5 107.0L34.1 108.0L35.2 107.4L36.3 107.0L36.8 107.9L37.2 108.8L38.2 108.4L39.2 108.2L39.4 106.8L38.6 105.9L37.5 105.4L36.7 104.5L35.9 103.5L34.7 102.9L34.1 101.8L33.3 102.3L32.3 102.5L32.4 103.8ZM76.8 143.2L77.8 146.3L79.8 146.7L80.8 144.5L79.2 141.8L77.2 140.5ZM113.9 32.8L113.6 31.3L112.5 30.2L111.1 29.8L109.7 30.2L108.7 31.3L108.3 32.8L108.7 34.2L109.7 35.3L111.1 35.7L112.5 35.3L113.6 34.2ZM132.8 38.5L132.1 37.3L131.3 36.9L130.4 36.6L129.4 36.4L128.3 36.6L127.5 37.0L126.6 37.3L125.9 38.5L126.6 39.7L127.5 40.0L128.3 40.4L129.4 40.3L130.4 40.4L131.4 40.3L132.1 39.7ZM118.6 54.0L119.4 55.0L120.5 55.5L121.5 54.6L122.3 53.5L122.4 54.3L122.9 55.0L123.9 55.5L125.1 55.5L125.7 54.3L126.6 53.3L127.0 51.8L127.2 50.2L126.2 49.4L124.9 49.0L123.8 49.0L122.9 49.5L121.9 49.2L120.9 49.0L119.6 49.8L118.0 50.2L118.3 51.5L118.1 52.8ZM134.7 71.3L135.7 71.4L136.6 72.0L138.1 72.0L139.6 71.7L140.6 71.2L141.5 70.6L142.5 70.0L141.5 71.3L140.7 72.3L139.6 73.0L139.9 74.1L140.5 75.0L142.1 74.8L143.5 74.2L144.5 73.3L145.4 72.3L146.4 71.3L147.2 71.7L147.8 72.5L147.3 73.6L146.3 74.2L145.4 75.0L146.4 75.1L147.4 75.0L148.3 74.3L149.4 74.2L149.7 72.9L149.4 71.4L149.8 70.0L148.5 69.1L147.3 68.1L146.4 66.8L145.6 65.8L144.5 65.5L143.3 65.3L142.2 65.2L141.1 65.5L140.3 66.1L139.6 66.8L138.3 67.3L137.0 67.4L135.6 67.5L135.2 68.5L134.7 69.5L134.9 70.4ZM135.1 88.0L135.9 89.2L137.2 90.0L137.2 91.3L136.6 92.5L136.4 93.6L135.6 94.5L136.4 95.6L137.6 96.3L138.4 95.2L139.6 94.5L139.7 93.4L140.3 92.5L140.6 91.3L140.5 90.0L140.7 88.7L140.6 87.4L140.0 86.3L138.7 85.8L137.6 85.0L136.2 84.9L134.9 85.5L135.1 86.7ZM149.4 108.2L150.4 108.4L151.3 108.0L152.7 108.8L154.3 109.0L155.4 108.7L156.2 108.0L157.3 107.2L158.6 107.0L157.4 106.2L156.2 105.5L154.7 105.2L153.3 104.7L151.8 104.9L150.3 105.0L149.8 106.2L148.8 107.0ZM138.6 112.0L140.5 110.8L143.5 109.5L144.7 107.8L141.5 108.0L138.6 109.5L137.2 111.7ZM107.2 78.3L108.8 79.0L109.4 81.5L111.9 81.2L112.3 78.5L110.6 76.8L109.2 74.5L106.6 76.0ZM172.5 148.0L171.7 149.3L171.3 150.8L171.8 151.8L171.9 153.0L172.8 152.6L173.9 152.5L174.9 151.3L175.8 150.0L176.6 148.9L177.9 148.5L178.8 147.5L179.5 146.3L179.6 144.9L180.6 143.8L181.1 142.5L181.4 141.0L181.7 139.5L180.7 138.5L179.5 138.9L178.1 139.2L176.9 139.7L175.8 140.5L174.7 141.4L173.5 142.0L172.5 143.0L171.8 144.0L171.1 145.0L170.9 146.3L171.9 146.9ZM159.6 157.5L158.8 161.3L159.6 165.0L161.7 164.2L160.5 161.3L161.5 158.8L161.5 153.7L159.6 152.5ZM155.8 132.5L157.2 133.0L159.2 130.7L163.1 129.5L164.1 128.3L161.1 127.5L157.2 129.5L155.6 131.0ZM112.1 102.5L114.1 104.5L116.4 107.0L118.0 107.0L117.0 103.7L113.7 100.2L111.7 100.8ZM118.0 109.5L120.0 111.3L122.3 111.7L122.9 110.5L119.6 108.0L117.6 108.2ZM124.9 125.0L126.2 126.2L128.2 126.8L129.8 124.2L129.4 120.5L126.8 120.0L125.3 123.0ZM120.0 125.0L121.9 125.5L123.3 124.5L123.3 122.0L121.5 121.3L120.0 123.0ZM105.3 133.5L106.6 133.0L108.2 133.5L109.2 132.5L108.2 131.8L106.6 130.7L104.7 131.2ZM25.5 71.2L25.5 70.3L24.6 69.2L23.3 68.6L22.4 68.8L22.4 69.7L23.3 70.8L24.6 71.4ZM9.9 53.7L9.1 52.6L7.4 52.6L6.5 53.7L7.4 54.9L9.1 54.9ZM11.7 55.5L11.1 54.5L10.0 54.5L9.5 55.5L10.0 56.5L11.1 56.5ZM12.9 53.0L12.2 52.0L10.9 52.0L10.2 53.0L10.9 54.0L12.2 54.0ZM85.7 153.3L85.2 152.0L84.2 152.0L83.7 153.3L84.2 154.5L85.2 154.5ZM101.4 179.0L100.7 178.0L99.2 178.0L98.5 179.0L99.2 180.0L100.7 180.0ZM119.5 62.0L118.7 60.4L117.3 60.4L116.5 62.0L117.3 63.6L118.7 63.6ZM131.1 85.8L130.2 84.5L128.5 84.5L127.7 85.8L128.5 87.0L130.2 87.0ZM143.8 87.0L143.0 86.2L141.6 86.2L140.8 87.0L141.6 87.8L143.0 87.8ZM148.9 110.5L148.1 108.7L146.7 108.7L145.9 110.5L146.7 112.3L148.1 112.3ZM150.0 117.0L149.4 115.2L148.2 115.2L147.6 117.0L148.2 118.8L149.4 118.8ZM155.5 122.0L155.9 119.8L154.7 119.1L153.0 120.5L152.6 122.7L153.8 123.4ZM158.9 123.8L157.4 122.6L155.6 122.9L154.5 124.4L154.7 126.2L156.2 127.4L158.0 127.1L159.2 125.6ZM162.0 135.5L161.3 134.2L159.8 134.2L159.1 135.5L159.8 136.8L161.3 136.8ZM166.1 140.7L166.1 139.0L164.4 137.5L162.8 137.8L162.8 139.5L164.5 141.0ZM175.2 135.0L174.3 133.4L172.6 133.4L171.8 135.0L172.6 136.6L174.3 136.6ZM170.4 144.5L169.7 143.5L168.2 143.5L167.5 144.5L168.2 145.5L169.7 145.5ZM157.7 164.2L156.3 163.7L154.2 164.4L153.6 165.8L155.0 166.3L157.0 165.6ZM147.6 135.4L146.5 134.6L144.2 134.5L142.1 135.3L141.3 136.6L142.4 137.4L144.7 137.5L146.9 136.7ZM138.8 126.7L137.3 126.5L134.6 127.6L132.2 129.4L131.6 130.8L133.2 131.0L135.9 129.9L138.3 128.1ZM126.2 132.0L125.3 130.2L123.6 130.2L122.8 132.0L123.6 133.8L125.3 133.8ZM128.1 140.0L127.3 137.9L125.6 137.9L124.7 140.0L125.6 142.1L127.3 142.1ZM134.7 141.0L134.0 140.0L132.6 140.0L131.8 141.0L132.6 142.0L134.0 142.0ZM122.0 132.4L120.8 131.9L119.2 132.5L118.7 133.6L119.9 134.1L121.5 133.5ZM117.5 135.4L117.2 134.2L115.7 133.3L114.6 133.6L114.9 134.8L116.3 135.7ZM113.5 126.2L113.6 123.8L112.2 123.3L110.7 125.3L110.6 127.7L112.0 128.2ZM109.9 121.3L109.1 119.4L107.3 119.4L106.5 121.3L107.3 123.1L109.1 123.1ZM107.8 115.2L107.7 112.5L106.5 112.3L105.4 114.8L105.6 117.5L106.8 117.7ZM106.5 110.1L106.6 107.3L105.0 106.7L103.3 108.9L103.2 111.7L104.8 112.3ZM117.9 114.0L117.2 111.6L115.7 111.6L115.0 114.0L115.7 116.4L117.2 116.4ZM128.0 113.7L126.9 112.5L124.7 112.5L123.6 113.7L124.7 115.0L126.9 115.0ZM110.8 130.0L110.2 128.8L109.0 128.8L108.4 130.0L109.0 131.2L110.2 131.2ZM90.4 101.8L89.3 100.2L87.1 100.2L86.0 101.8L87.1 103.3L89.3 103.3ZM90.6 106.8L89.6 104.9L87.6 104.9L86.6 106.8L87.6 108.6L89.6 108.6ZM90.8 116.0L89.2 115.5L86.4 116.3L85.2 117.5L86.8 118.0L89.7 117.2ZM83.0 118.8L82.3 117.7L81.1 117.7L80.5 118.8L81.1 119.8L82.3 119.8ZM89.4 112.0L88.8 111.1L87.6 111.1L87.0 112.0L87.6 112.9L88.8 112.9ZM89.4 70.4L88.2 69.5L86.6 70.1L86.2 71.6L87.5 72.5L89.1 71.9ZM95.0 72.9L94.3 71.1L91.9 70.0L90.1 70.6L90.8 72.4L93.2 73.5ZM98.7 68.4L97.1 68.4L95.2 70.0L95.0 71.6L96.6 71.6L98.4 70.0ZM101.2 66.8L100.5 65.5L99.0 65.5L98.3 66.8L99.0 68.0L100.5 68.0ZM102.7 65.2L102.2 64.0L101.2 64.0L100.8 65.2L101.2 66.5L102.2 66.5ZM105.6 66.2L105.2 65.2L104.5 65.2L104.1 66.2L104.5 67.3L105.2 67.3ZM101.3 73.0L100.8 72.0L99.9 72.0L99.4 73.0L99.9 74.0L100.8 74.0ZM134.7 122.5L134.2 121.5L133.2 121.5L132.7 122.5L133.2 123.5L134.2 123.5ZM130.7 126.8L130.2 126.0L129.3 126.0L128.8 126.8L129.3 127.5L130.2 127.5ZM101.5 107.5L101.1 105.1L100.4 105.1L100.0 107.5L100.4 109.9L101.1 109.9ZM157.6 113.5L157.1 112.7L156.1 112.7L155.6 113.5L156.1 114.3L157.1 114.3ZM153.5 117.5L152.9 116.5L151.7 116.5L151.1 117.5L151.7 118.5L152.9 118.5ZM209.1 146.5L208.6 145.7L207.7 145.7L207.2 146.5L207.7 147.3L208.6 147.3ZM79.2 138.0L78.7 137.0L77.7 137.0L77.2 138.0L77.7 139.0L78.7 139.0ZM37.0 83.8L36.1 82.5L34.4 82.5L33.6 83.8L34.4 85.0L36.1 85.0ZM39.3 83.9L37.9 83.2L36.4 84.1L36.4 85.6L37.7 86.3L39.2 85.4ZM36.8 88.0L36.4 87.2L35.7 87.2L35.3 88.0L35.7 88.8L36.4 88.8ZM25.2 71.3L24.9 70.5L24.1 70.5L23.8 71.3L24.1 72.0L24.9 72.0ZM162.2 153.3L161.9 152.2L161.1 152.2L160.8 153.3L161.1 154.3L161.9 154.3ZM148.0 125.0L147.4 124.4L146.2 124.4L145.6 125.0L146.2 125.6L147.4 125.6ZM151.7 141.2L151.3 140.6L150.6 140.6L150.2 141.2L150.6 141.9L151.3 141.9ZM144.1 125.5L143.7 124.9L142.9 124.9L142.4 125.5L142.9 126.1L143.7 126.1ZM113.7 109.8L113.1 108.9L111.9 108.9L111.3 109.8L111.9 110.6L113.1 110.6ZM119.4 125.0L119.0 123.4L118.2 123.4L117.7 125.0L118.2 126.6L119.0 126.6ZM127.8 129.0L127.3 128.1L126.3 128.1L125.8 129.0L126.3 129.9L127.3 129.9ZM128.9 128.3L128.6 127.6L127.8 127.6L127.5 128.3L127.8 128.9L128.6 128.9ZM125.3 139.2L125.0 138.2L124.4 138.2L124.1 139.2L124.4 140.3L125.0 140.3ZM123.5 163.7L122.9 163.2L121.7 163.2L121.1 163.7L121.7 164.3L122.9 164.3ZM132.9 178.3L132.4 177.8L131.4 177.8L130.9 178.3L131.4 178.7L132.4 178.7ZM141.1 176.5L140.7 175.9L140.0 175.9L139.6 176.5L140.0 177.1L140.7 177.1ZM40.2 118.8L39.9 118.2L39.3 118.2L39.0 118.8L39.3 119.3L39.9 119.3ZM53.9 131.2L53.6 130.4L53.0 130.4L52.7 131.2L53.0 132.1L53.6 132.1ZM55.4 131.8L55.1 131.0L54.3 131.0L54.0 131.8L54.3 132.5L55.1 132.5ZM86.2 116.5L85.8 115.9L84.8 115.9L84.3 116.5L84.8 117.1L85.8 117.1ZM86.5 107.5L86.1 106.7L85.2 106.7L84.8 107.5L85.2 108.3L86.1 108.3ZM94.2 105.7L93.9 105.3L93.5 105.3L93.2 105.7L93.5 106.2L93.9 106.2ZM156.2 125.0L155.9 124.1L155.3 124.1L155.0 125.0L155.3 125.9L155.9 125.9ZM160.6 126.8L160.2 126.0L159.3 126.0L158.9 126.8L159.3 127.5L160.2 127.5ZM152.6 115.5L152.3 114.7L151.5 114.7L151.2 115.5L151.5 116.3L152.3 116.3ZM147.1 110.5L146.8 109.9L146.1 109.9L145.7 110.5L146.1 111.1L146.8 111.1ZM128.4 86.5L128.1 85.9L127.5 85.9L127.2 86.5L127.5 87.1L128.1 87.1ZM111.8 130.7L111.4 129.9L110.5 129.9L110.1 130.7L110.5 131.6L111.4 131.6ZM118.3 126.0L118.0 125.4L117.2 125.4L116.9 126.0L117.2 126.6L118.0 126.6ZM131.7 127.7L131.2 127.0L130.3 127.0L129.8 127.7L130.3 128.5L131.2 128.5ZM96.7 129.0L96.5 128.5L96.0 128.5L95.8 129.0L96.0 129.5L96.5 129.5ZM88.3 127.0L88.1 126.5L87.6 126.5L87.3 127.0L87.6 127.5L88.1 127.5ZM97.6 41.8L97.2 41.1L96.5 41.1L96.1 41.8L96.5 42.4L97.2 42.4ZM98.7 70.3L98.4 69.0L97.6 69.0L97.3 70.3L97.6 71.5L98.4 71.5ZM75.9 100.0L83.7 99.2L83.7 94.5L75.9 93.2ZM32.2 85.5L34.7 87.0L37.6 88.7L40.6 87.0L38.6 80.5L33.7 78.0ZM7.3 55.0L13.1 57.5L13.1 52.5L7.3 52.5ZM70.0 80.0L78.8 82.0L84.7 86.3L90.6 90.5L96.4 93.0L99.4 97.5L102.3 97.5L101.3 92.5L96.4 89.5L91.0 87.5L84.7 80.0L77.8 75.2L69.0 77.0ZM82.7 69.0L82.0 66.5L80.0 64.9L77.6 64.9L75.6 66.5L74.9 69.0L75.6 71.5L77.6 73.1L80.0 73.1L82.0 71.5ZM43.8 76.0L42.8 74.6L40.2 73.7L37.0 73.7L34.5 74.6L33.5 76.0L34.5 77.4L37.0 78.3L40.2 78.3L42.8 77.4ZM54.3 93.8L63.1 95.7L69.0 95.0L67.4 89.5L53.3 91.0ZM33.7 86.3L37.6 85.0L35.7 77.5L33.7 77.5Z"/>
<clipPath id="landclip"><use href="#fland"/></clipPath>
<path id="gray" d="M6.0 -0.2L7.3 0.1L8.6 0.3L9.7 1.0L11.0 1.2L11.8 2.5L12.2 4.0L12.0 5.5L11.4 6.8L11.7 8.3L11.2 9.5L10.2 10.3L9.2 11.1L8.5 12.5L8.6 14.1L7.8 15.4L8.7 16.4L8.8 18.0L9.7 19.0L8.9 20.1L9.2 21.5L9.0 22.8L8.3 23.9L8.6 25.3L9.7 26.1L8.9 27.4L7.8 28.4L6.9 29.6L6.4 30.9L6.0 32.1L5.4 33.3L5.5 34.6L4.7 35.7L4.7 36.9L4.6 38.2L5.7 39.0L6.9 39.4L8.2 39.6L7.7 40.6L7.5 41.7L8.7 42.6L10.0 43.4L11.0 44.6L12.2 45.1L12.9 46.4L14.1 46.9L15.3 47.4L16.5 47.8L16.9 49.2L18.1 49.5L18.7 50.6L18.8 51.8M34.2 -0.2L33.0 0.6L31.6 0.9L31.0 1.9L30.6 3.2L29.6 4.0L29.0 5.4L29.2 6.9L28.5 8.3L28.2 9.7L27.8 11.1L28.3 12.6L27.6 14.0L28.1 15.4L28.6 16.9L29.5 18.3L30.2 19.7L30.8 21.2L31.6 22.6L32.3 23.9L33.3 24.7L33.6 26.0L34.8 26.5L36.2 27.0L37.4 28.1L39.0 28.2M75.0 -0.2L75.3 1.2L76.8 1.9L77.2 3.3L77.5 4.6L78.3 5.7L78.9 6.9L77.8 8.1L77.4 9.7L77.4 10.9L76.7 12.0L76.9 13.3L77.1 14.4L76.2 15.4L76.6 16.5M143.3 5.7L144.3 4.6L145.1 3.3L146.4 2.5L147.0 1.2L148.5 1.1L150.0 1.3L151.5 1.5L152.9 1.0L154.4 0.9L155.8 1.2L157.2 1.2L158.7 1.4L160.1 0.6L161.5 0.8L162.9 1.6L164.4 1.4L165.8 1.2L167.3 0.9L168.9 1.3L170.4 0.7L171.9 0.9L173.5 0.9L175.0 0.9L175.8 1.8L176.4 2.8L176.6 4.0L177.2 5.5L177.8 6.9L178.6 8.3L179.8 8.9L180.6 10.0L181.5 11.0L182.9 11.4L184.5 11.7L185.8 12.7L187.3 13.2L188.5 14.3L189.7 15.1L191.0 15.4L192.3 16.1L193.6 16.5L194.6 17.6L195.9 18.0M140.2 31.3L139.2 32.1L139.0 33.2L140.4 33.0L141.7 33.6L143.1 33.7L144.4 33.9L145.9 34.2L147.3 33.4L148.7 33.3L150.1 33.3L151.6 33.1L152.5 34.0L153.3 35.1L151.9 35.3L150.8 36.0L149.7 36.7L148.9 37.9L147.6 38.2L146.2 38.6L145.4 39.7L144.3 40.4L143.3 41.3L142.5 42.5L141.8 43.8L141.0 45.0L140.4 46.2L140.9 47.5L140.5 48.7L141.4 47.6L142.7 47.0L144.1 46.2L144.6 44.6L145.9 43.6L147.0 42.5L148.4 41.7L149.9 41.1L151.0 39.9L152.1 39.1L153.2 38.0L154.5 37.5L155.8 37.0L156.5 35.7L157.1 34.5L158.7 33.9L159.4 32.6L160.1 31.3L160.9 30.1L162.0 29.2L163.6 28.8L164.4 27.5L165.3 26.7L165.9 25.7L166.8 24.8L168.3 24.8L169.9 25.1L171.5 24.5L172.8 24.0L174.3 24.1L175.6 23.2L177.2 23.4L178.6 23.2L180.0 22.7L181.4 22.6L182.8 22.5L184.3 22.3L185.7 22.5L187.1 22.0L188.4 22.0L189.7 21.9L190.8 22.9L192.1 22.8L193.2 23.7L194.5 24.1L195.9 24.2M195.9 38.2L194.7 38.9L193.2 38.3L192.1 39.4L190.7 39.3L189.4 39.0L188.2 38.8L187.0 38.8L185.7 39.0L184.3 39.4L182.9 39.6L181.4 39.6L180.1 38.9L178.7 38.2L177.2 38.2L176.2 37.2L175.0 36.5L174.0 37.0L173.2 37.7L172.2 38.2L171.0 39.1L169.7 39.7L168.6 40.7L167.2 41.1L165.8 41.3L165.0 40.3L164.2 39.3L163.2 38.4L161.7 37.8L160.0 37.9L158.7 37.0L157.5 37.6L156.1 37.5L154.9 38.0L153.7 38.4L152.3 39.0L151.6 40.5L150.1 41.0L149.2 42.2L148.0 43.0L146.8 43.8L145.9 45.0L145.3 46.2L144.1 46.8L143.6 47.9L142.7 48.9L141.5 49.5L140.2 49.8M140.2 49.8L139.1 51.0L138.8 52.5L138.2 53.8L138.5 55.2L138.7 56.7L139.0 58.1L138.7 59.5L138.4 60.9L138.8 62.3L140.2 62.1L141.6 61.8L143.0 61.8L144.4 61.4L145.9 61.7L147.3 61.6L148.8 61.7L150.1 60.6L151.6 61.0L152.9 60.2L154.4 60.2L154.6 61.5L155.5 62.3L154.5 63.3L153.5 64.3L152.4 65.2L152.4 66.8L151.8 68.2L151.0 69.5L151.9 70.7L153.5 71.1L154.4 72.3L154.0 73.7L153.8 75.2L154.9 76.0L156.1 76.6L157.2 77.4L156.7 78.5L156.8 79.8L156.1 80.9L155.0 81.6L154.3 82.9L153.0 83.4L153.7 84.3L153.8 85.6L154.4 86.6L155.9 86.8L157.4 87.3L158.7 88.1L160.1 88.7L158.7 89.0L157.5 90.1L156.0 89.9L154.7 90.5L153.7 89.8L152.3 89.7L151.5 88.5L150.4 88.0L149.1 87.1L148.6 85.5L147.6 84.4L146.3 83.8L145.0 83.4L144.7 84.9L144.4 86.5L143.9 88.0L143.2 89.3L143.4 90.9L142.7 92.2L143.0 93.3L143.1 94.4L143.3 95.5M143.3 95.4L142.7 94.3L143.2 93.1L143.0 91.9L144.3 91.6L145.4 92.2L146.6 92.3L147.7 93.1L149.1 92.8L150.2 93.8L151.6 93.8L152.4 95.1L153.1 96.5L154.4 97.6L155.9 97.5L157.2 98.5L158.7 98.7L160.1 99.0L160.7 100.3L161.6 101.3L162.2 102.6L160.8 103.3L160.0 104.6L158.9 105.6L158.0 106.8L159.3 107.5L160.8 107.8L162.2 108.2L162.2 109.7L162.8 111.1L163.2 112.5L162.7 113.6L162.6 114.9L161.8 115.9L163.1 116.3L164.5 116.2L165.8 116.8L166.7 117.4L167.7 117.9L168.6 118.5L167.4 119.1L166.5 120.1L165.5 121.0L164.5 122.2L163.3 123.1L162.2 124.2L163.4 123.8L164.6 124.5L165.8 123.9L167.2 124.1L168.6 123.5L170.0 123.2L171.5 123.3L172.9 123.2L174.3 123.3L175.7 123.1L177.2 123.0L178.6 123.6L180.2 122.9L181.7 123.3L183.1 123.6L182.2 124.7L181.6 126.0L180.3 126.8L179.2 127.4L178.0 128.0L177.0 128.8L175.7 129.3L174.2 129.2L172.9 130.2L171.5 130.6L170.0 130.8L168.6 131.3L167.3 132.0L165.8 132.3L164.4 132.7L165.7 132.1L167.1 131.6L168.7 131.9L170.0 131.1L171.5 131.0L172.7 130.6L174.0 130.6L175.3 130.7L176.6 130.7L176.9 131.9L176.4 133.2L176.4 134.4L176.6 135.6L177.8 134.8L178.0 133.2L179.3 132.5L179.9 131.0L181.1 129.9L181.7 128.4L183.0 128.9L184.4 128.5L185.7 128.9L186.8 129.6L188.2 129.1L189.2 129.9L190.4 130.8L191.9 131.2L192.8 132.5L193.7 131.7L195.0 131.9L195.9 131.3M172.1 34.5L171.5 33.5L169.9 32.9L168.0 32.9L166.4 33.5L165.8 34.5L166.4 35.5L168.0 36.1L169.9 36.1L171.5 35.5ZM138.7 44.7L137.6 43.7L135.4 43.5L132.9 44.1L131.1 45.4L130.6 46.8L131.7 47.8L133.9 48.0L136.4 47.4L138.2 46.1ZM140.0 54.3L139.6 53.4L138.6 53.1L137.5 53.4L137.1 54.3L137.5 55.1L138.6 55.4L139.6 55.1ZM192.1 36.1L195.7 34.6L195.9 37.9Z" fill="none" stroke="#7c7c7c" stroke-width="1.65" stroke-linejoin="round"/>
</defs>
<!-- panel 2025-04-22 -->
<clipPath id="ax0"><rect x="57.5" y="63.5" width="196.0" height="181.0"/></clipPath>
<g clip-path="url(#ax0)">
<g transform="translate(57.5,63.5)">
<use href="#fland" fill="#90c3dd"/>
<g clip-path="url(#landclip)">
<path d="M25.2 59.1L26.7 53.4L23.8 50.5L26.0 46.3L32.3 44.1L34.8 39.2L38.8 33.8L40.2 29.9L44.4 30.6L46.6 35.6L44.7 39.2L48.7 42.0L50.9 47.0L52.3 52.7L53.7 54.8L51.6 56.2L50.1 52.7L48.0 49.1L46.6 45.6L43.0 42.0L40.9 44.9L39.0 49.8L41.6 53.4L43.3 59.1L39.0 60.8L35.9 57.9L33.1 60.1L31.6 63.3L28.1 62.7Z" fill="#313695"/>
<path d="M52.3 32.0L56.5 31.3L58.7 35.6L58.4 39.2L55.8 43.4L53.0 44.1L51.6 39.2Z" fill="#313695"/>
<path d="M54.4 37.7L57.2 37.7L57.2 41.7L54.4 41.7Z" fill="#90c3dd"/>
<path d="M48.7 64.8L52.3 67.6L54.4 70.5L55.8 62.7L58.7 61.9L64.4 66.2L63.6 70.5L60.1 76.1L57.2 79.7L53.7 80.4L51.6 76.1L49.4 70.5Z" fill="#313695"/>
<path d="M40.2 68.3L43.0 68.3L43.0 70.7L40.2 70.7Z" fill="#313695"/>
<path d="M60.1 81.1L64.4 81.1L64.4 83.5L60.1 83.5Z" fill="#313695"/>
<path d="M53.0 85.4L56.5 85.4L56.5 88.3L53.0 88.3Z" fill="#313695"/>
<path d="M78.6 85.4L82.9 86.1L81.4 90.4L78.9 88.9Z" fill="#313695"/>
<path d="M70.2 24.3L70.2 37.8L73.1 35.7L76.6 33.6L78.1 36.4L80.9 40.0L85.2 39.3L85.2 32.2L91.6 30.7L95.1 32.9L99.4 30.0L96.6 25.0L95.9 20.8L105.1 20.0L105.8 26.4L109.4 27.2L112.2 22.9L118.6 22.2L119.3 5.1L70.2 5.1Z" fill="#313695"/>
<path d="M96.1 5.0L110.3 5.0L111.7 14.3L118.8 16.4L121.0 18.5L126.0 18.1L131.6 17.5L132.3 21.4L131.6 25.7L129.5 27.1L123.1 25.7L118.8 24.9L117.4 22.1L114.6 21.4L111.7 23.5L108.9 22.8L107.5 24.9L103.9 23.5L101.8 20.0L97.5 17.8L96.1 17.8Z" fill="#313695"/>
<path d="M104.9 14.7L107.2 14.7L107.2 16.7L104.9 16.7Z" fill="#90c3dd"/>
<path d="M76.6 86.2L79.8 84.8L82.3 88.3L79.8 90.5L77.5 89.3Z" fill="#313695"/>
<path d="M54.6 96.9L61.0 96.1L59.6 99.0L56.0 100.4Z" fill="#313695"/>
<path d="M59.6 81.2L63.8 80.5L63.1 83.4L60.3 84.1Z" fill="#313695"/>
<path d="M53.7 96.4L60.1 97.2L58.7 100.0L55.1 103.6L54.1 100.7Z" fill="#313695"/>
<path d="M65.3 49.9L68.8 49.9L68.8 54.2L65.3 54.2Z" fill="#fffebe"/>
<path d="M74.5 63.2L80.9 63.2L80.9 66.6L74.5 66.6Z" fill="#fffebe"/>
<path d="M77.3 63.7L80.6 63.7L80.6 65.7L77.3 65.7Z" fill="#f88c51"/>
<path d="M80.2 74.8L84.7 74.8L84.7 78.5L80.2 78.5Z" fill="#fffebe"/>
<path d="M90.1 82.6L94.0 82.6L94.0 87.6L90.1 87.6Z" fill="#fffebe"/>
<path d="M109.4 43.5L113.6 43.5L113.6 46.4L109.4 46.4Z" fill="#fffebe"/>
<path d="M28.1 92.2L33.8 93.6L34.8 97.6L30.2 96.4Z" fill="#f88c51"/>
<path d="M29.5 93.6L31.6 94.3L33.1 96.7L30.9 96.2Z" fill="#a50026"/>
<path d="M101.8 165.5L113.1 165.5L110.3 170.4L106.0 171.9L102.5 169.7Z" fill="#313695"/>
<path d="M133.1 170.4L141.9 170.1L141.9 173.6L133.1 173.6Z" fill="#fffebe"/>
<path d="M147.4 112.5L169.0 112.5L184.6 135.0L184.6 167.5L151.3 167.5L139.6 142.5L139.6 120.0Z" fill="#313695"/>
<path d="M102.3 106.2L123.9 106.2L139.6 120.0L139.6 142.5L102.3 142.5Z" fill="#313695"/>
<path d="M109.2 95.0L110.2 101.2L120.0 110.0L120.0 97.5Z" fill="#313695"/>
<path d="M129.4 123.2L128.8 121.3L127.2 120.5L125.7 121.3L125.0 123.2L125.7 125.2L127.2 126.0L128.8 125.2Z" fill="#90c3dd"/>
<path d="M75.9 147.5L81.7 147.5L81.7 138.7L75.9 138.7Z" fill="#313695"/>
<path d="M130.5 52.5L128.3 47.9L122.9 46.0L117.5 47.9L115.3 52.5L117.5 57.1L122.9 59.0L128.3 57.1Z" fill="#313695"/>
<path d="M114.7 78.3L113.2 73.7L109.6 71.8L105.9 73.7L104.4 78.3L105.9 82.8L109.6 84.8L113.2 82.8Z" fill="#313695"/>
<path d="M4.3 67.5L22.9 67.5L22.9 51.2L4.3 51.2Z" fill="#313695"/>
<path d="M29.8 86.3L34.9 86.3L34.9 78.0L29.8 78.0Z" fill="#313695"/>
<path d="M31.4 110.0L40.0 110.0L40.0 101.2L31.4 101.2Z" fill="#313695"/>
</g>
<use href="#gray"/>
<use href="#land" fill="none" stroke="#000" stroke-width="2.20" stroke-linejoin="round"/>
</g>
<path d="M77.5 63.5V244.5M126.5 63.5V244.5M175.5 63.5V244.5M224.5 63.5V244.5M57.5 113.5H253.5M57.5 163.5H253.5M57.5 213.5H253.5" fill="none" stroke="#b0b0b0" stroke-width="1.1"/>
</g>
<rect x="57.5" y="63.5" width="196.0" height="181.0" fill="none" stroke="#000" stroke-width="1.1"/>
<path d="M77.5 245.0v4.9M126.5 245.0v4.9M175.5 245.0v4.9M224.5 245.0v4.9M57.0 63.5h-4.9M57.0 113.5h-4.9M57.0 163.5h-4.9M57.0 213.5h-4.9" stroke="#000" stroke-width="1.1" fill="none"/>
<text x="155.5" y="55.8" text-anchor="middle" letter-spacing="0.05">valid_time = 2025-04-22</text>
<text x="47.0" y="70.0" text-anchor="end">42</text>
<text x="47.0" y="119.1" text-anchor="end">40</text>
<text x="47.0" y="169.1" text-anchor="end">38</text>
<text x="47.0" y="219.1" text-anchor="end">36</text>
<text transform="translate(19.8,155.4) rotate(-90)" text-anchor="middle" letter-spacing="0.05">latitude [degrees_north]</text>
<!-- panel 2025-04-23 -->
<clipPath id="ax1"><rect x="277.5" y="63.5" width="197.0" height="181.0"/></clipPath>
<g clip-path="url(#ax1)">
<g transform="translate(277.7,63.5)">
<use href="#fland" fill="#90c3dd"/>
<g clip-path="url(#landclip)">
<path d="M25.7 59.1L23.6 50.5L25.7 46.3L32.2 44.1L34.6 39.2L38.6 33.8L39.3 27.8L47.1 26.4L54.2 23.5L59.9 20.7L64.2 22.1L61.3 24.9L57.0 27.1L54.2 29.9L57.7 33.5L60.6 37.7L59.9 42.0L57.0 39.2L54.2 37.7L52.1 42.0L49.9 45.6L47.1 46.3L44.2 43.4L41.4 40.6L38.6 43.4L40.0 49.1L42.8 53.4L44.2 57.7L41.4 59.8L37.1 59.1L34.3 60.5L32.9 63.3L30.0 59.1L27.9 60.5Z" fill="#313695"/>
<path d="M69.8 34.2L69.1 20.7L72.7 16.4L82.6 14.6L99.7 10.7L99.7 20.7L94.0 21.4L89.8 24.9L88.3 27.1L84.1 27.8L79.8 28.5L77.0 29.9L74.1 32.0L72.0 34.2Z" fill="#313695"/>
<path d="M50.6 81.9L57.0 82.5L56.3 88.9L51.4 88.3Z" fill="#313695"/>
<path d="M56.3 62.7L58.2 62.2L62.0 66.9L60.6 67.9Z" fill="#313695"/>
<path d="M49.2 66.9L51.1 66.5L55.3 73.3L53.6 74.5Z" fill="#313695"/>
<path d="M95.9 5.0L110.1 5.0L111.5 14.3L118.6 16.4L120.8 18.5L127.9 17.8L127.9 26.7L122.9 25.7L118.6 24.9L117.2 22.8L112.2 22.8L111.5 20.0L103.0 20.0L103.0 22.1L95.9 22.1Z" fill="#313695"/>
<path d="M49.9 100.7L54.2 100.7L54.5 107.8L50.2 107.8Z" fill="#313695"/>
<path d="M52.1 119.2L55.6 118.5L59.2 123.5L58.7 131.3L52.1 131.3Z" fill="#313695"/>
<path d="M62.0 122.8L68.4 123.2L68.4 132.0L64.2 129.2Z" fill="#313695"/>
<path d="M74.8 127.1L79.1 127.7L83.4 134.9L82.6 146.3L74.8 146.3Z" fill="#313695"/>
<path d="M85.9 154.8L114.4 154.8L114.4 171.9L110.8 177.5L85.9 177.5Z" fill="#313695"/>
<path d="M125.0 167.6L130.7 167.6L127.9 170.7Z" fill="#313695"/>
<path d="M137.1 170.4L141.7 170.4L141.7 173.6L137.1 173.6Z" fill="#fffebe"/>
<path d="M63.5 53.4L67.7 53.4L67.7 55.7L63.5 55.7Z" fill="#fffebe"/>
<path d="M77.0 63.3L82.6 63.3L82.6 66.9L77.0 66.9Z" fill="#fffebe"/>
<path d="M79.8 73.3L86.9 74.0L88.3 78.3L80.5 77.6Z" fill="#fffebe"/>
<path d="M91.2 84.7L97.3 84.7L97.3 88.3L91.2 88.3Z" fill="#fffebe"/>
<path d="M69.1 106.4L73.4 106.4L73.4 107.8L69.1 107.8Z" fill="#fffebe"/>
<path d="M27.9 91.5L33.6 92.9L34.6 97.6L30.0 96.4Z" fill="#f88c51"/>
<path d="M28.9 92.5L31.4 93.6L33.2 97.0L30.7 96.2Z" fill="#a50026"/>
<path d="M32.9 103.9L36.0 104.7L35.7 106.4L33.2 105.7Z" fill="#fffebe"/>
<path d="M147.4 112.5L169.0 112.5L169.0 135.0L169.0 167.5L151.3 167.5L139.6 142.5L139.6 120.0Z" fill="#313695"/>
<path d="M102.3 106.2L123.9 106.2L139.6 120.0L139.6 142.5L102.3 142.5Z" fill="#313695"/>
<path d="M109.2 95.0L110.2 101.2L120.0 110.0L120.0 97.5Z" fill="#313695"/>
<path d="M129.4 123.2L128.8 121.3L127.2 120.5L125.7 121.3L125.0 123.2L125.7 125.2L127.2 126.0L128.8 125.2Z" fill="#90c3dd"/>
<path d="M75.9 147.5L81.7 147.5L81.7 138.7L75.9 138.7Z" fill="#313695"/>
<path d="M130.5 52.5L128.3 47.9L122.9 46.0L117.5 47.9L115.3 52.5L117.5 57.1L122.9 59.0L128.3 57.1Z" fill="#313695"/>
<path d="M114.7 78.3L113.2 73.7L109.6 71.8L105.9 73.7L104.4 78.3L105.9 82.8L109.6 84.8L113.2 82.8Z" fill="#313695"/>
<path d="M4.3 67.5L22.9 67.5L22.9 51.2L4.3 51.2Z" fill="#313695"/>
<path d="M29.8 86.3L34.9 86.3L34.9 78.0L29.8 78.0Z" fill="#313695"/>
</g>
<use href="#gray"/>
<use href="#land" fill="none" stroke="#000" stroke-width="2.20" stroke-linejoin="round"/>
</g>
<path d="M297.5 63.5V244.5M346.5 63.5V244.5M395.5 63.5V244.5M444.5 63.5V244.5M277.5 113.5H474.5M277.5 163.5H474.5M277.5 213.5H474.5" fill="none" stroke="#b0b0b0" stroke-width="1.1"/>
</g>
<rect x="277.5" y="63.5" width="197.0" height="181.0" fill="none" stroke="#000" stroke-width="1.1"/>
<path d="M297.5 245.0v4.9M346.5 245.0v4.9M395.5 245.0v4.9M444.5 245.0v4.9M277.0 63.5h-4.9M277.0 113.5h-4.9M277.0 163.5h-4.9M277.0 213.5h-4.9" stroke="#000" stroke-width="1.1" fill="none"/>
<text x="375.8" y="55.8" text-anchor="middle" letter-spacing="0.05">valid_time = 2025-04-23</text>
<!-- panel 2025-04-24 -->
<clipPath id="ax2"><rect x="498.5" y="63.5" width="196.0" height="181.0"/></clipPath>
<g clip-path="url(#ax2)">
<g transform="translate(497.9,63.5)">
<use href="#fland" fill="#313695"/>
<g clip-path="url(#landclip)">
<path d="M57.7 45.0L59.9 45.0L59.9 50.0L63.4 50.7L68.4 50.7L72.7 49.6L77.0 55.0L81.2 61.4L85.5 67.1L89.8 70.7L85.5 72.8L89.8 79.2L96.9 82.0L102.6 84.9L104.0 90.5L106.8 96.3L111.1 99.8L104.7 101.2L99.0 99.8L96.1 103.4L90.5 99.8L84.8 98.4L83.3 94.1L79.1 92.2L74.8 91.7L70.5 89.4L69.1 83.7L64.9 83.7L60.6 79.2L60.6 74.9L63.4 72.0L67.0 70.7L67.7 64.9L64.9 62.1L60.6 59.2L55.6 60.0L54.2 57.8L55.6 55.0L57.7 52.1Z" fill="#90c3dd"/>
<path d="M50.6 92.7L56.3 90.5L63.4 89.4L69.8 88.4L69.8 92.7L63.4 93.7L56.3 95.1L52.1 96.5Z" fill="#90c3dd"/>
<path d="M64.9 103.4L68.4 100.5L72.7 99.1L79.1 100.5L83.3 103.4L89.8 104.8L89.8 111.2L83.3 112.6L79.1 110.8L76.5 113.3L77.9 121.9L80.2 129.0L82.6 138.9L72.7 138.9L71.3 129.0L69.8 121.9L68.4 116.2L65.6 110.5Z" fill="#90c3dd"/>
<path d="M129.0 15.4L139.5 12.4L141.0 3.4L154.4 3.4L154.4 21.4L144.0 22.9L141.0 31.8L133.5 27.4L129.0 24.9Z" fill="#90c3dd"/>
<path d="M114.1 161.8L148.4 161.8L148.4 179.7L114.1 179.7L112.0 170.7Z" fill="#90c3dd"/>
<path d="M131.7 77.5L151.3 77.5L151.3 63.7L131.7 63.7Z" fill="#90c3dd"/>
<path d="M133.7 97.5L143.5 97.5L143.5 83.8L133.7 83.8Z" fill="#90c3dd"/>
<path d="M147.4 110.0L159.2 110.0L159.2 103.7L147.4 103.7Z" fill="#90c3dd"/>
<path d="M169.0 155.0L182.7 155.0L182.7 137.5L169.0 137.5Z" fill="#90c3dd"/>
<path d="M113.6 32.8L112.9 31.0L111.1 30.3L109.4 31.0L108.7 32.8L109.4 34.5L111.1 35.2L112.9 34.5Z" fill="#90c3dd"/>
<path d="M129.2 123.2L128.6 121.3L127.2 120.5L125.8 121.3L125.3 123.2L125.8 125.2L127.2 126.0L128.6 125.2Z" fill="#f88c51"/>
<path d="M93.2 83.5L98.2 83.5L98.2 86.5L93.2 86.5Z" fill="#fffebe"/>
<path d="M133.5 170.7L140.1 170.7L140.1 173.1L133.5 173.1Z" fill="#fffebe"/>
</g>
<use href="#gray"/>
<use href="#land" fill="none" stroke="#000" stroke-width="2.20" stroke-linejoin="round"/>
</g>
<path d="M517.5 63.5V244.5M566.5 63.5V244.5M615.5 63.5V244.5M664.5 63.5V244.5M498.5 113.5H694.5M498.5 163.5H694.5M498.5 213.5H694.5" fill="none" stroke="#b0b0b0" stroke-width="1.1"/>
</g>
<rect x="498.5" y="63.5" width="196.0" height="181.0" fill="none" stroke="#000" stroke-width="1.1"/>
<path d="M517.5 245.0v4.9M566.5 245.0v4.9M615.5 245.0v4.9M664.5 245.0v4.9M498.0 63.5h-4.9M498.0 113.5h-4.9M498.0 163.5h-4.9M498.0 213.5h-4.9" stroke="#000" stroke-width="1.1" fill="none"/>
<text x="596.0" y="55.8" text-anchor="middle" letter-spacing="0.05">valid_time = 2025-04-24</text>
<!-- panel 2025-04-25 -->
<clipPath id="ax3"><rect x="57.5" y="274.5" width="196.0" height="181.0"/></clipPath>
<g clip-path="url(#ax3)">
<g transform="translate(57.5,274.5)">
<use href="#fland" fill="#313695"/>
<g clip-path="url(#landclip)">
<path d="M132.9 18.9L140.4 15.9L141.3 8.4L147.8 6.9L149.0 12.9L143.4 15.9L138.9 21.9L133.5 22.7Z" fill="#90c3dd"/>
<path d="M60.2 95.0L66.1 95.0L66.1 91.8L60.2 91.8Z" fill="#90c3dd"/>
<path d="M70.0 111.3L73.9 111.3L73.9 106.2L70.0 106.2Z" fill="#90c3dd"/>
<path d="M69.0 125.0L71.9 125.0L71.9 120.0L69.0 120.0Z" fill="#90c3dd"/>
</g>
<use href="#gray"/>
<use href="#land" fill="none" stroke="#000" stroke-width="2.20" stroke-linejoin="round"/>
</g>
<path d="M77.5 274.5V455.5M126.5 274.5V455.5M175.5 274.5V455.5M224.5 274.5V455.5M57.5 324.5H253.5M57.5 374.5H253.5M57.5 424.5H253.5" fill="none" stroke="#b0b0b0" stroke-width="1.1"/>
</g>
<rect x="57.5" y="274.5" width="196.0" height="181.0" fill="none" stroke="#000" stroke-width="1.1"/>
<path d="M77.5 456.0v4.9M126.5 456.0v4.9M175.5 456.0v4.9M224.5 456.0v4.9M57.0 274.5h-4.9M57.0 324.5h-4.9M57.0 374.5h-4.9M57.0 424.5h-4.9" stroke="#000" stroke-width="1.1" fill="none"/>
<text x="155.5" y="266.8" text-anchor="middle" letter-spacing="0.05">valid_time = 2025-04-25</text>
<text x="47.0" y="281.0" text-anchor="end">42</text>
<text x="47.0" y="330.1" text-anchor="end">40</text>
<text x="47.0" y="380.1" text-anchor="end">38</text>
<text x="47.0" y="430.1" text-anchor="end">36</text>
<text transform="translate(19.8,366.4) rotate(-90)" text-anchor="middle" letter-spacing="0.05">latitude [degrees_north]</text>
<!-- panel 2025-04-26 -->
<clipPath id="ax4"><rect x="277.5" y="274.5" width="197.0" height="181.0"/></clipPath>
<g clip-path="url(#ax4)">
<g transform="translate(277.7,274.5)">
<use href="#fland" fill="#313695"/>
<g clip-path="url(#landclip)">
<path d="M138.7 9.0L146.1 7.8L147.6 14.4L143.1 15.9L141.1 21.9L137.2 21.0Z" fill="#90c3dd"/>
</g>
<use href="#gray"/>
<use href="#land" fill="none" stroke="#000" stroke-width="2.20" stroke-linejoin="round"/>
</g>
<path d="M297.5 274.5V455.5M346.5 274.5V455.5M395.5 274.5V455.5M444.5 274.5V455.5M277.5 324.5H474.5M277.5 374.5H474.5M277.5 424.5H474.5" fill="none" stroke="#b0b0b0" stroke-width="1.1"/>
</g>
<rect x="277.5" y="274.5" width="197.0" height="181.0" fill="none" stroke="#000" stroke-width="1.1"/>
<path d="M297.5 456.0v4.9M346.5 456.0v4.9M395.5 456.0v4.9M444.5 456.0v4.9M277.0 274.5h-4.9M277.0 324.5h-4.9M277.0 374.5h-4.9M277.0 424.5h-4.9" stroke="#000" stroke-width="1.1" fill="none"/>
<text x="375.8" y="266.8" text-anchor="middle" letter-spacing="0.05">valid_time = 2025-04-26</text>
<!-- panel 2025-04-27 -->
<clipPath id="ax5"><rect x="498.5" y="274.5" width="196.0" height="181.0"/></clipPath>
<g clip-path="url(#ax5)">
<g transform="translate(497.9,274.5)">
<use href="#fland" fill="#313695"/>
<use href="#gray"/>
<use href="#land" fill="none" stroke="#000" stroke-width="2.20" stroke-linejoin="round"/>
</g>
<path d="M517.5 274.5V455.5M566.5 274.5V455.5M615.5 274.5V455.5M664.5 274.5V455.5M498.5 324.5H694.5M498.5 374.5H694.5M498.5 424.5H694.5" fill="none" stroke="#b0b0b0" stroke-width="1.1"/>
</g>
<rect x="498.5" y="274.5" width="196.0" height="181.0" fill="none" stroke="#000" stroke-width="1.1"/>
<path d="M517.5 456.0v4.9M566.5 456.0v4.9M615.5 456.0v4.9M664.5 456.0v4.9M498.0 274.5h-4.9M498.0 324.5h-4.9M498.0 374.5h-4.9M498.0 424.5h-4.9" stroke="#000" stroke-width="1.1" fill="none"/>
<text x="596.0" y="266.8" text-anchor="middle" letter-spacing="0.05">valid_time = 2025-04-27</text>
<!-- panel 2025-04-28 -->
<clipPath id="ax6"><rect x="57.5" y="485.5" width="196.0" height="181.0"/></clipPath>
<g clip-path="url(#ax6)">
<g transform="translate(57.5,485.5)">
<use href="#fland" fill="#313695"/>
<g clip-path="url(#landclip)">
<path d="M111.5 26.8L124.9 26.8L124.9 23.5L111.5 23.5Z" fill="#90c3dd"/>
</g>
<use href="#gray"/>
<use href="#land" fill="none" stroke="#000" stroke-width="2.20" stroke-linejoin="round"/>
</g>
<path d="M77.5 485.5V666.5M126.5 485.5V666.5M175.5 485.5V666.5M224.5 485.5V666.5M57.5 535.5H253.5M57.5 585.5H253.5M57.5 635.5H253.5" fill="none" stroke="#b0b0b0" stroke-width="1.1"/>
</g>
<rect x="57.5" y="485.5" width="196.0" height="181.0" fill="none" stroke="#000" stroke-width="1.1"/>
<path d="M77.5 667.0v4.9M126.5 667.0v4.9M175.5 667.0v4.9M224.5 667.0v4.9M57.0 485.5h-4.9M57.0 535.5h-4.9M57.0 585.5h-4.9M57.0 635.5h-4.9" stroke="#000" stroke-width="1.1" fill="none"/>
<text x="155.5" y="477.8" text-anchor="middle" letter-spacing="0.05">valid_time = 2025-04-28</text>
<text x="47.0" y="492.0" text-anchor="end">42</text>
<text x="47.0" y="541.1" text-anchor="end">40</text>
<text x="47.0" y="591.1" text-anchor="end">38</text>
<text x="47.0" y="641.1" text-anchor="end">36</text>
<text transform="translate(19.8,577.4) rotate(-90)" text-anchor="middle" letter-spacing="0.05">latitude [degrees_north]</text>
<text x="76.6" y="687.6" text-anchor="middle">20.0</text>
<text x="125.6" y="687.6" text-anchor="middle">22.5</text>
<text x="174.6" y="687.6" text-anchor="middle">25.0</text>
<text x="223.6" y="687.6" text-anchor="middle">27.5</text>
<text x="155.5" y="706.9" text-anchor="middle">longitude [degrees_east]</text>
<text x="353.6" y="22.3" style="font-size:16.67px" text-anchor="middle">ERC Percentiles</text>
<!-- colorbar -->
<rect x="146.50" y="712.50" width="91.80" height="23.00" fill="#313695"/>
<rect x="238.10" y="712.50" width="92.00" height="23.00" fill="#90c3dd"/>
<rect x="329.90" y="712.50" width="92.00" height="23.00" fill="#fffebe"/>
<rect x="421.70" y="712.50" width="92.00" height="23.00" fill="#f88c51"/>
<rect x="513.50" y="712.50" width="92.00" height="23.00" fill="#a50026"/>
<rect x="146.50" y="712.50" width="459.00" height="23.00" fill="none" stroke="#000" stroke-width="1.1"/>
<path d="M146.5 736.0v2.8M238.5 736.0v2.8M330.5 736.0v2.8M421.5 736.0v2.8M513.5 736.0v2.8M605.5 736.0v2.8M199.5 736.0v4.9M302.5 736.0v4.9M375.5 736.0v4.9M467.5 736.0v4.9M559.5 736.0v4.9" stroke="#000" stroke-width="1.1" fill="none"/>
<text transform="translate(193.5,777.0) rotate(-90)" text-anchor="middle">Χαμηλή</text>
<text transform="translate(211.5,777.0) rotate(-90)" text-anchor="middle">(Low)</text>
<text transform="translate(296.5,786.0) rotate(-90)" text-anchor="middle">Μέση</text>
<text transform="translate(314.5,786.0) rotate(-90)" text-anchor="middle">(Moderate)</text>
<text transform="translate(369.5,771.6) rotate(-90)" text-anchor="middle">Υψηλή</text>
<text transform="translate(386.9,770.8) rotate(-90)" text-anchor="middle">(High)</text>
<text transform="translate(461.8,791.0) rotate(-90)" text-anchor="middle">Πολύ Υψηλή</text>
<text transform="translate(477.9,790.2) rotate(-90)" text-anchor="middle">(Very High)</text>
<text transform="translate(546.0,792.0) rotate(-90)" text-anchor="middle">Κατάσταση</text>
<text transform="translate(563.0,792.0) rotate(-90)" text-anchor="middle">Συναγερμού</text>
<text transform="translate(581.0,792.0) rotate(-90)" text-anchor="middle">(Extreme)</text>
<text x="376.0" y="850.2" text-anchor="middle">ERC Percentiles</text>
</svg></body></html>
